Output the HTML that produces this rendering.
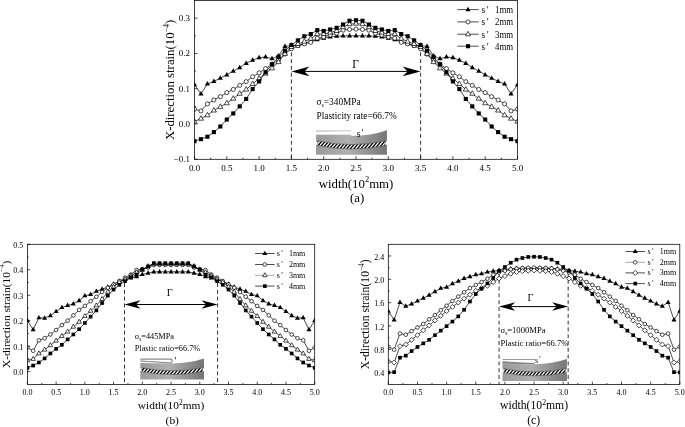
<!DOCTYPE html>
<html lang="en">
<head>
<meta charset="utf-8">
<title>X-direction strain versus width</title>
<style>
html,body{margin:0;padding:0;background:#fff;}
body{width:685px;height:427px;overflow:hidden;}
svg{display:block;filter:grayscale(1);}
svg text{font-family:"Liberation Serif", serif;fill:#000;}
</style>
</head>
<body>
<svg width="685" height="427" viewBox="0 0 685 427">
<rect x="0" y="0" width="685" height="427" fill="#fff"/>
<clipPath id="clipa"><rect x="194.5" y="0.5" width="323" height="158.8"/></clipPath>
<line x1="291.4" y1="52.3" x2="291.4" y2="159.3" stroke="#000" stroke-width="0.8" stroke-dasharray="4 2.8"/>
<line x1="420.6" y1="52.3" x2="420.6" y2="159.3" stroke="#000" stroke-width="0.8" stroke-dasharray="4 2.8"/>
<g clip-path="url(#clipa)">
<polyline points="194.5,84.63 200.96,94.02 207.42,83.92 213.88,81.42 220.34,78.14 226.8,74.78 233.26,71.08 239.72,67.55 246.18,63.31 252.64,60.14 259.1,57.67 265.56,56.96 272.02,58.73 278.48,55.9 284.94,46.38 291.4,45.49 297.86,45.85 304.32,43.55 310.78,41.44 317.24,39.74 323.7,38.26 330.16,36.99 336.62,36.25 343.08,35.93 349.54,35.79 356,35.79 362.46,35.79 368.92,35.93 375.38,36.25 381.84,36.99 388.3,38.26 394.76,39.74 401.22,41.44 407.68,43.55 414.14,45.85 420.6,45.49 427.06,46.38 433.52,55.9 439.98,58.73 446.44,56.96 452.9,57.67 459.36,60.14 465.82,63.31 472.28,67.55 478.74,71.08 485.2,74.78 491.66,78.14 498.12,81.42 504.58,83.92 511.04,94.02 517.5,84.63" fill="none" stroke="#000" stroke-width="0.7"/>
<polygon points="194.5,81.73 191.95,86.23 197.05,86.23" fill="#000"/>
<polygon points="200.96,91.12 198.41,95.62 203.51,95.62" fill="#000"/>
<polygon points="207.42,81.02 204.87,85.52 209.97,85.52" fill="#000"/>
<polygon points="213.88,78.52 211.33,83.02 216.43,83.02" fill="#000"/>
<polygon points="220.34,75.24 217.79,79.74 222.89,79.74" fill="#000"/>
<polygon points="226.8,71.88 224.25,76.38 229.35,76.38" fill="#000"/>
<polygon points="233.26,68.18 230.71,72.68 235.81,72.68" fill="#000"/>
<polygon points="239.72,64.65 237.17,69.15 242.27,69.15" fill="#000"/>
<polygon points="246.18,60.41 243.63,64.91 248.73,64.91" fill="#000"/>
<polygon points="252.64,57.24 250.09,61.74 255.19,61.74" fill="#000"/>
<polygon points="259.1,54.77 256.55,59.27 261.65,59.27" fill="#000"/>
<polygon points="265.56,54.06 263.01,58.56 268.11,58.56" fill="#000"/>
<polygon points="272.02,55.83 269.47,60.33 274.57,60.33" fill="#000"/>
<polygon points="278.48,53 275.93,57.5 281.03,57.5" fill="#000"/>
<polygon points="284.94,43.48 282.39,47.98 287.49,47.98" fill="#000"/>
<polygon points="291.4,42.59 288.85,47.09 293.95,47.09" fill="#000"/>
<polygon points="297.86,42.95 295.31,47.45 300.41,47.45" fill="#000"/>
<polygon points="304.32,40.65 301.77,45.15 306.87,45.15" fill="#000"/>
<polygon points="310.78,38.54 308.23,43.04 313.33,43.04" fill="#000"/>
<polygon points="317.24,36.84 314.69,41.34 319.79,41.34" fill="#000"/>
<polygon points="323.7,35.36 321.15,39.86 326.25,39.86" fill="#000"/>
<polygon points="330.16,34.09 327.61,38.59 332.71,38.59" fill="#000"/>
<polygon points="336.62,33.35 334.07,37.85 339.17,37.85" fill="#000"/>
<polygon points="343.08,33.03 340.53,37.53 345.63,37.53" fill="#000"/>
<polygon points="349.54,32.89 346.99,37.39 352.09,37.39" fill="#000"/>
<polygon points="356,32.89 353.45,37.39 358.55,37.39" fill="#000"/>
<polygon points="362.46,32.89 359.91,37.39 365.01,37.39" fill="#000"/>
<polygon points="368.92,33.03 366.37,37.53 371.47,37.53" fill="#000"/>
<polygon points="375.38,33.35 372.83,37.85 377.93,37.85" fill="#000"/>
<polygon points="381.84,34.09 379.29,38.59 384.39,38.59" fill="#000"/>
<polygon points="388.3,35.36 385.75,39.86 390.85,39.86" fill="#000"/>
<polygon points="394.76,36.84 392.21,41.34 397.31,41.34" fill="#000"/>
<polygon points="401.22,38.54 398.67,43.04 403.77,43.04" fill="#000"/>
<polygon points="407.68,40.65 405.13,45.15 410.23,45.15" fill="#000"/>
<polygon points="414.14,42.95 411.59,47.45 416.69,47.45" fill="#000"/>
<polygon points="420.6,42.59 418.05,47.09 423.15,47.09" fill="#000"/>
<polygon points="427.06,43.48 424.51,47.98 429.61,47.98" fill="#000"/>
<polygon points="433.52,53 430.97,57.5 436.07,57.5" fill="#000"/>
<polygon points="439.98,55.83 437.43,60.33 442.53,60.33" fill="#000"/>
<polygon points="446.44,54.06 443.89,58.56 448.99,58.56" fill="#000"/>
<polygon points="452.9,54.77 450.35,59.27 455.45,59.27" fill="#000"/>
<polygon points="459.36,57.24 456.81,61.74 461.91,61.74" fill="#000"/>
<polygon points="465.82,60.41 463.27,64.91 468.37,64.91" fill="#000"/>
<polygon points="472.28,64.65 469.73,69.15 474.83,69.15" fill="#000"/>
<polygon points="478.74,68.18 476.19,72.68 481.29,72.68" fill="#000"/>
<polygon points="485.2,71.88 482.65,76.38 487.75,76.38" fill="#000"/>
<polygon points="491.66,75.24 489.11,79.74 494.21,79.74" fill="#000"/>
<polygon points="498.12,78.52 495.57,83.02 500.67,83.02" fill="#000"/>
<polygon points="504.58,81.02 502.03,85.52 507.13,85.52" fill="#000"/>
<polygon points="511.04,91.12 508.49,95.62 513.59,95.62" fill="#000"/>
<polygon points="517.5,81.73 514.95,86.23 520.05,86.23" fill="#000"/>
<polyline points="194.5,109.19 200.96,110.95 207.42,103.9 213.88,100.01 220.34,96.66 226.8,92.6 233.26,89.43 239.72,85.37 246.18,81.66 252.64,76.72 259.1,72.84 265.56,68.61 272.02,64.2 278.48,60.14 284.94,54.14 291.4,48.85 297.86,45.67 304.32,43.91 310.78,42.32 317.24,38.26 323.7,36.99 330.16,35.08 336.62,33.32 343.08,30.14 349.54,29.44 356,29.08 362.46,29.44 368.92,30.14 375.38,33.32 381.84,35.08 388.3,36.99 394.76,38.26 401.22,42.32 407.68,43.91 414.14,45.67 420.6,48.85 427.06,54.14 433.52,60.14 439.98,64.2 446.44,68.61 452.9,72.84 459.36,76.72 465.82,81.66 472.28,85.37 478.74,89.43 485.2,92.6 491.66,96.66 498.12,100.01 504.58,103.9 511.04,110.95 517.5,109.19" fill="none" stroke="#000" stroke-width="0.7"/>
<circle cx="194.5" cy="109.19" r="2.05" fill="#fff" stroke="#000" stroke-width="0.7"/>
<circle cx="200.96" cy="110.95" r="2.05" fill="#fff" stroke="#000" stroke-width="0.7"/>
<circle cx="207.42" cy="103.9" r="2.05" fill="#fff" stroke="#000" stroke-width="0.7"/>
<circle cx="213.88" cy="100.01" r="2.05" fill="#fff" stroke="#000" stroke-width="0.7"/>
<circle cx="220.34" cy="96.66" r="2.05" fill="#fff" stroke="#000" stroke-width="0.7"/>
<circle cx="226.8" cy="92.6" r="2.05" fill="#fff" stroke="#000" stroke-width="0.7"/>
<circle cx="233.26" cy="89.43" r="2.05" fill="#fff" stroke="#000" stroke-width="0.7"/>
<circle cx="239.72" cy="85.37" r="2.05" fill="#fff" stroke="#000" stroke-width="0.7"/>
<circle cx="246.18" cy="81.66" r="2.05" fill="#fff" stroke="#000" stroke-width="0.7"/>
<circle cx="252.64" cy="76.72" r="2.05" fill="#fff" stroke="#000" stroke-width="0.7"/>
<circle cx="259.1" cy="72.84" r="2.05" fill="#fff" stroke="#000" stroke-width="0.7"/>
<circle cx="265.56" cy="68.61" r="2.05" fill="#fff" stroke="#000" stroke-width="0.7"/>
<circle cx="272.02" cy="64.2" r="2.05" fill="#fff" stroke="#000" stroke-width="0.7"/>
<circle cx="278.48" cy="60.14" r="2.05" fill="#fff" stroke="#000" stroke-width="0.7"/>
<circle cx="284.94" cy="54.14" r="2.05" fill="#fff" stroke="#000" stroke-width="0.7"/>
<circle cx="291.4" cy="48.85" r="2.05" fill="#fff" stroke="#000" stroke-width="0.7"/>
<circle cx="297.86" cy="45.67" r="2.05" fill="#fff" stroke="#000" stroke-width="0.7"/>
<circle cx="304.32" cy="43.91" r="2.05" fill="#fff" stroke="#000" stroke-width="0.7"/>
<circle cx="310.78" cy="42.32" r="2.05" fill="#fff" stroke="#000" stroke-width="0.7"/>
<circle cx="317.24" cy="38.26" r="2.05" fill="#fff" stroke="#000" stroke-width="0.7"/>
<circle cx="323.7" cy="36.99" r="2.05" fill="#fff" stroke="#000" stroke-width="0.7"/>
<circle cx="330.16" cy="35.08" r="2.05" fill="#fff" stroke="#000" stroke-width="0.7"/>
<circle cx="336.62" cy="33.32" r="2.05" fill="#fff" stroke="#000" stroke-width="0.7"/>
<circle cx="343.08" cy="30.14" r="2.05" fill="#fff" stroke="#000" stroke-width="0.7"/>
<circle cx="349.54" cy="29.44" r="2.05" fill="#fff" stroke="#000" stroke-width="0.7"/>
<circle cx="356" cy="29.08" r="2.05" fill="#fff" stroke="#000" stroke-width="0.7"/>
<circle cx="362.46" cy="29.44" r="2.05" fill="#fff" stroke="#000" stroke-width="0.7"/>
<circle cx="368.92" cy="30.14" r="2.05" fill="#fff" stroke="#000" stroke-width="0.7"/>
<circle cx="375.38" cy="33.32" r="2.05" fill="#fff" stroke="#000" stroke-width="0.7"/>
<circle cx="381.84" cy="35.08" r="2.05" fill="#fff" stroke="#000" stroke-width="0.7"/>
<circle cx="388.3" cy="36.99" r="2.05" fill="#fff" stroke="#000" stroke-width="0.7"/>
<circle cx="394.76" cy="38.26" r="2.05" fill="#fff" stroke="#000" stroke-width="0.7"/>
<circle cx="401.22" cy="42.32" r="2.05" fill="#fff" stroke="#000" stroke-width="0.7"/>
<circle cx="407.68" cy="43.91" r="2.05" fill="#fff" stroke="#000" stroke-width="0.7"/>
<circle cx="414.14" cy="45.67" r="2.05" fill="#fff" stroke="#000" stroke-width="0.7"/>
<circle cx="420.6" cy="48.85" r="2.05" fill="#fff" stroke="#000" stroke-width="0.7"/>
<circle cx="427.06" cy="54.14" r="2.05" fill="#fff" stroke="#000" stroke-width="0.7"/>
<circle cx="433.52" cy="60.14" r="2.05" fill="#fff" stroke="#000" stroke-width="0.7"/>
<circle cx="439.98" cy="64.2" r="2.05" fill="#fff" stroke="#000" stroke-width="0.7"/>
<circle cx="446.44" cy="68.61" r="2.05" fill="#fff" stroke="#000" stroke-width="0.7"/>
<circle cx="452.9" cy="72.84" r="2.05" fill="#fff" stroke="#000" stroke-width="0.7"/>
<circle cx="459.36" cy="76.72" r="2.05" fill="#fff" stroke="#000" stroke-width="0.7"/>
<circle cx="465.82" cy="81.66" r="2.05" fill="#fff" stroke="#000" stroke-width="0.7"/>
<circle cx="472.28" cy="85.37" r="2.05" fill="#fff" stroke="#000" stroke-width="0.7"/>
<circle cx="478.74" cy="89.43" r="2.05" fill="#fff" stroke="#000" stroke-width="0.7"/>
<circle cx="485.2" cy="92.6" r="2.05" fill="#fff" stroke="#000" stroke-width="0.7"/>
<circle cx="491.66" cy="96.66" r="2.05" fill="#fff" stroke="#000" stroke-width="0.7"/>
<circle cx="498.12" cy="100.01" r="2.05" fill="#fff" stroke="#000" stroke-width="0.7"/>
<circle cx="504.58" cy="103.9" r="2.05" fill="#fff" stroke="#000" stroke-width="0.7"/>
<circle cx="511.04" cy="110.95" r="2.05" fill="#fff" stroke="#000" stroke-width="0.7"/>
<circle cx="517.5" cy="109.19" r="2.05" fill="#fff" stroke="#000" stroke-width="0.7"/>
<polyline points="194.5,121.54 200.96,118.58 207.42,115.19 213.88,110.42 220.34,106.72 226.8,103.19 233.26,98.6 239.72,93.66 246.18,89.53 252.64,83.92 259.1,78.49 265.56,73.55 272.02,68.25 278.48,62.04 284.94,53.79 291.4,46.9 297.86,43.91 304.32,41.54 310.78,38.61 317.24,34.02 323.7,34.02 330.16,32.44 336.62,30.92 343.08,27.14 349.54,24.14 356,23.61 362.46,24.14 368.92,27.14 375.38,30.92 381.84,32.44 388.3,34.02 394.76,34.02 401.22,38.61 407.68,41.54 414.14,43.91 420.6,46.9 427.06,53.79 433.52,62.04 439.98,68.25 446.44,73.55 452.9,78.49 459.36,83.92 465.82,89.53 472.28,93.66 478.74,98.6 485.2,103.19 491.66,106.72 498.12,110.42 504.58,115.19 511.04,118.58 517.5,121.54" fill="none" stroke="#000" stroke-width="0.7"/>
<polygon points="194.5,118.64 191.95,123.14 197.05,123.14" fill="#fff" stroke="#000" stroke-width="0.7"/>
<polygon points="200.96,115.68 198.41,120.18 203.51,120.18" fill="#fff" stroke="#000" stroke-width="0.7"/>
<polygon points="207.42,112.29 204.87,116.79 209.97,116.79" fill="#fff" stroke="#000" stroke-width="0.7"/>
<polygon points="213.88,107.52 211.33,112.02 216.43,112.02" fill="#fff" stroke="#000" stroke-width="0.7"/>
<polygon points="220.34,103.82 217.79,108.32 222.89,108.32" fill="#fff" stroke="#000" stroke-width="0.7"/>
<polygon points="226.8,100.29 224.25,104.79 229.35,104.79" fill="#fff" stroke="#000" stroke-width="0.7"/>
<polygon points="233.26,95.7 230.71,100.2 235.81,100.2" fill="#fff" stroke="#000" stroke-width="0.7"/>
<polygon points="239.72,90.76 237.17,95.26 242.27,95.26" fill="#fff" stroke="#000" stroke-width="0.7"/>
<polygon points="246.18,86.63 243.63,91.13 248.73,91.13" fill="#fff" stroke="#000" stroke-width="0.7"/>
<polygon points="252.64,81.02 250.09,85.52 255.19,85.52" fill="#fff" stroke="#000" stroke-width="0.7"/>
<polygon points="259.1,75.59 256.55,80.09 261.65,80.09" fill="#fff" stroke="#000" stroke-width="0.7"/>
<polygon points="265.56,70.65 263.01,75.15 268.11,75.15" fill="#fff" stroke="#000" stroke-width="0.7"/>
<polygon points="272.02,65.35 269.47,69.85 274.57,69.85" fill="#fff" stroke="#000" stroke-width="0.7"/>
<polygon points="278.48,59.14 275.93,63.64 281.03,63.64" fill="#fff" stroke="#000" stroke-width="0.7"/>
<polygon points="284.94,50.89 282.39,55.39 287.49,55.39" fill="#fff" stroke="#000" stroke-width="0.7"/>
<polygon points="291.4,44 288.85,48.5 293.95,48.5" fill="#fff" stroke="#000" stroke-width="0.7"/>
<polygon points="297.86,41.01 295.31,45.51 300.41,45.51" fill="#fff" stroke="#000" stroke-width="0.7"/>
<polygon points="304.32,38.64 301.77,43.14 306.87,43.14" fill="#fff" stroke="#000" stroke-width="0.7"/>
<polygon points="310.78,35.71 308.23,40.21 313.33,40.21" fill="#fff" stroke="#000" stroke-width="0.7"/>
<polygon points="317.24,31.12 314.69,35.62 319.79,35.62" fill="#fff" stroke="#000" stroke-width="0.7"/>
<polygon points="323.7,31.12 321.15,35.62 326.25,35.62" fill="#fff" stroke="#000" stroke-width="0.7"/>
<polygon points="330.16,29.54 327.61,34.04 332.71,34.04" fill="#fff" stroke="#000" stroke-width="0.7"/>
<polygon points="336.62,28.02 334.07,32.52 339.17,32.52" fill="#fff" stroke="#000" stroke-width="0.7"/>
<polygon points="343.08,24.24 340.53,28.74 345.63,28.74" fill="#fff" stroke="#000" stroke-width="0.7"/>
<polygon points="349.54,21.24 346.99,25.74 352.09,25.74" fill="#fff" stroke="#000" stroke-width="0.7"/>
<polygon points="356,20.71 353.45,25.21 358.55,25.21" fill="#fff" stroke="#000" stroke-width="0.7"/>
<polygon points="362.46,21.24 359.91,25.74 365.01,25.74" fill="#fff" stroke="#000" stroke-width="0.7"/>
<polygon points="368.92,24.24 366.37,28.74 371.47,28.74" fill="#fff" stroke="#000" stroke-width="0.7"/>
<polygon points="375.38,28.02 372.83,32.52 377.93,32.52" fill="#fff" stroke="#000" stroke-width="0.7"/>
<polygon points="381.84,29.54 379.29,34.04 384.39,34.04" fill="#fff" stroke="#000" stroke-width="0.7"/>
<polygon points="388.3,31.12 385.75,35.62 390.85,35.62" fill="#fff" stroke="#000" stroke-width="0.7"/>
<polygon points="394.76,31.12 392.21,35.62 397.31,35.62" fill="#fff" stroke="#000" stroke-width="0.7"/>
<polygon points="401.22,35.71 398.67,40.21 403.77,40.21" fill="#fff" stroke="#000" stroke-width="0.7"/>
<polygon points="407.68,38.64 405.13,43.14 410.23,43.14" fill="#fff" stroke="#000" stroke-width="0.7"/>
<polygon points="414.14,41.01 411.59,45.51 416.69,45.51" fill="#fff" stroke="#000" stroke-width="0.7"/>
<polygon points="420.6,44 418.05,48.5 423.15,48.5" fill="#fff" stroke="#000" stroke-width="0.7"/>
<polygon points="427.06,50.89 424.51,55.39 429.61,55.39" fill="#fff" stroke="#000" stroke-width="0.7"/>
<polygon points="433.52,59.14 430.97,63.64 436.07,63.64" fill="#fff" stroke="#000" stroke-width="0.7"/>
<polygon points="439.98,65.35 437.43,69.85 442.53,69.85" fill="#fff" stroke="#000" stroke-width="0.7"/>
<polygon points="446.44,70.65 443.89,75.15 448.99,75.15" fill="#fff" stroke="#000" stroke-width="0.7"/>
<polygon points="452.9,75.59 450.35,80.09 455.45,80.09" fill="#fff" stroke="#000" stroke-width="0.7"/>
<polygon points="459.36,81.02 456.81,85.52 461.91,85.52" fill="#fff" stroke="#000" stroke-width="0.7"/>
<polygon points="465.82,86.63 463.27,91.13 468.37,91.13" fill="#fff" stroke="#000" stroke-width="0.7"/>
<polygon points="472.28,90.76 469.73,95.26 474.83,95.26" fill="#fff" stroke="#000" stroke-width="0.7"/>
<polygon points="478.74,95.7 476.19,100.2 481.29,100.2" fill="#fff" stroke="#000" stroke-width="0.7"/>
<polygon points="485.2,100.29 482.65,104.79 487.75,104.79" fill="#fff" stroke="#000" stroke-width="0.7"/>
<polygon points="491.66,103.82 489.11,108.32 494.21,108.32" fill="#fff" stroke="#000" stroke-width="0.7"/>
<polygon points="498.12,107.52 495.57,112.02 500.67,112.02" fill="#fff" stroke="#000" stroke-width="0.7"/>
<polygon points="504.58,112.29 502.03,116.79 507.13,116.79" fill="#fff" stroke="#000" stroke-width="0.7"/>
<polygon points="511.04,115.68 508.49,120.18 513.59,120.18" fill="#fff" stroke="#000" stroke-width="0.7"/>
<polygon points="517.5,118.64 514.95,123.14 520.05,123.14" fill="#fff" stroke="#000" stroke-width="0.7"/>
<polyline points="194.5,141.2 200.96,139.19 207.42,136.72 213.88,132.13 220.34,126.48 226.8,119.53 233.26,113.42 239.72,106.37 246.18,98.96 252.64,89.08 259.1,81.42 265.56,72.31 272.02,64.2 278.48,56.96 284.94,50.61 291.4,44.96 297.86,40.38 304.32,36.25 310.78,34.02 317.24,30.14 323.7,30.92 330.16,29.44 336.62,27.85 343.08,24.5 349.54,20.72 356,20.26 362.46,20.72 368.92,24.5 375.38,27.85 381.84,29.44 388.3,30.92 394.76,30.14 401.22,34.02 407.68,36.25 414.14,40.38 420.6,44.96 427.06,50.61 433.52,56.96 439.98,64.2 446.44,72.31 452.9,81.42 459.36,89.08 465.82,98.96 472.28,106.37 478.74,113.42 485.2,119.53 491.66,126.48 498.12,132.13 504.58,136.72 511.04,139.19 517.5,141.2" fill="none" stroke="#000" stroke-width="0.7"/>
<rect x="192.45" y="139.15" width="4.1" height="4.1" fill="#000"/>
<rect x="198.91" y="137.14" width="4.1" height="4.1" fill="#000"/>
<rect x="205.37" y="134.67" width="4.1" height="4.1" fill="#000"/>
<rect x="211.83" y="130.08" width="4.1" height="4.1" fill="#000"/>
<rect x="218.29" y="124.43" width="4.1" height="4.1" fill="#000"/>
<rect x="224.75" y="117.48" width="4.1" height="4.1" fill="#000"/>
<rect x="231.21" y="111.37" width="4.1" height="4.1" fill="#000"/>
<rect x="237.67" y="104.32" width="4.1" height="4.1" fill="#000"/>
<rect x="244.13" y="96.91" width="4.1" height="4.1" fill="#000"/>
<rect x="250.59" y="87.03" width="4.1" height="4.1" fill="#000"/>
<rect x="257.05" y="79.37" width="4.1" height="4.1" fill="#000"/>
<rect x="263.51" y="70.26" width="4.1" height="4.1" fill="#000"/>
<rect x="269.97" y="62.15" width="4.1" height="4.1" fill="#000"/>
<rect x="276.43" y="54.91" width="4.1" height="4.1" fill="#000"/>
<rect x="282.89" y="48.56" width="4.1" height="4.1" fill="#000"/>
<rect x="289.35" y="42.91" width="4.1" height="4.1" fill="#000"/>
<rect x="295.81" y="38.33" width="4.1" height="4.1" fill="#000"/>
<rect x="302.27" y="34.2" width="4.1" height="4.1" fill="#000"/>
<rect x="308.73" y="31.97" width="4.1" height="4.1" fill="#000"/>
<rect x="315.19" y="28.09" width="4.1" height="4.1" fill="#000"/>
<rect x="321.65" y="28.87" width="4.1" height="4.1" fill="#000"/>
<rect x="328.11" y="27.39" width="4.1" height="4.1" fill="#000"/>
<rect x="334.57" y="25.8" width="4.1" height="4.1" fill="#000"/>
<rect x="341.03" y="22.45" width="4.1" height="4.1" fill="#000"/>
<rect x="347.49" y="18.67" width="4.1" height="4.1" fill="#000"/>
<rect x="353.95" y="18.21" width="4.1" height="4.1" fill="#000"/>
<rect x="360.41" y="18.67" width="4.1" height="4.1" fill="#000"/>
<rect x="366.87" y="22.45" width="4.1" height="4.1" fill="#000"/>
<rect x="373.33" y="25.8" width="4.1" height="4.1" fill="#000"/>
<rect x="379.79" y="27.39" width="4.1" height="4.1" fill="#000"/>
<rect x="386.25" y="28.87" width="4.1" height="4.1" fill="#000"/>
<rect x="392.71" y="28.09" width="4.1" height="4.1" fill="#000"/>
<rect x="399.17" y="31.97" width="4.1" height="4.1" fill="#000"/>
<rect x="405.63" y="34.2" width="4.1" height="4.1" fill="#000"/>
<rect x="412.09" y="38.33" width="4.1" height="4.1" fill="#000"/>
<rect x="418.55" y="42.91" width="4.1" height="4.1" fill="#000"/>
<rect x="425.01" y="48.56" width="4.1" height="4.1" fill="#000"/>
<rect x="431.47" y="54.91" width="4.1" height="4.1" fill="#000"/>
<rect x="437.93" y="62.15" width="4.1" height="4.1" fill="#000"/>
<rect x="444.39" y="70.26" width="4.1" height="4.1" fill="#000"/>
<rect x="450.85" y="79.37" width="4.1" height="4.1" fill="#000"/>
<rect x="457.31" y="87.03" width="4.1" height="4.1" fill="#000"/>
<rect x="463.77" y="96.91" width="4.1" height="4.1" fill="#000"/>
<rect x="470.23" y="104.32" width="4.1" height="4.1" fill="#000"/>
<rect x="476.69" y="111.37" width="4.1" height="4.1" fill="#000"/>
<rect x="483.15" y="117.48" width="4.1" height="4.1" fill="#000"/>
<rect x="489.61" y="124.43" width="4.1" height="4.1" fill="#000"/>
<rect x="496.07" y="130.08" width="4.1" height="4.1" fill="#000"/>
<rect x="502.53" y="134.67" width="4.1" height="4.1" fill="#000"/>
<rect x="508.99" y="137.14" width="4.1" height="4.1" fill="#000"/>
<rect x="515.45" y="139.15" width="4.1" height="4.1" fill="#000"/>
</g>
<rect x="194.5" y="0.5" width="323" height="158.8" fill="none" stroke="#000" stroke-width="0.75"/>
<line x1="194.5" y1="159.3" x2="194.5" y2="156.2" stroke="#000" stroke-width="0.7"/>
<text x="194.5" y="171.3" font-size="9" text-anchor="middle">0.0</text>
<line x1="210.65" y1="159.3" x2="210.65" y2="157.7" stroke="#000" stroke-width="0.7"/>
<line x1="226.8" y1="159.3" x2="226.8" y2="156.2" stroke="#000" stroke-width="0.7"/>
<text x="226.8" y="171.3" font-size="9" text-anchor="middle">0.5</text>
<line x1="242.95" y1="159.3" x2="242.95" y2="157.7" stroke="#000" stroke-width="0.7"/>
<line x1="259.1" y1="159.3" x2="259.1" y2="156.2" stroke="#000" stroke-width="0.7"/>
<text x="259.1" y="171.3" font-size="9" text-anchor="middle">1.0</text>
<line x1="275.25" y1="159.3" x2="275.25" y2="157.7" stroke="#000" stroke-width="0.7"/>
<line x1="291.4" y1="159.3" x2="291.4" y2="156.2" stroke="#000" stroke-width="0.7"/>
<text x="291.4" y="171.3" font-size="9" text-anchor="middle">1.5</text>
<line x1="307.55" y1="159.3" x2="307.55" y2="157.7" stroke="#000" stroke-width="0.7"/>
<line x1="323.7" y1="159.3" x2="323.7" y2="156.2" stroke="#000" stroke-width="0.7"/>
<text x="323.7" y="171.3" font-size="9" text-anchor="middle">2.0</text>
<line x1="339.85" y1="159.3" x2="339.85" y2="157.7" stroke="#000" stroke-width="0.7"/>
<line x1="356" y1="159.3" x2="356" y2="156.2" stroke="#000" stroke-width="0.7"/>
<text x="356" y="171.3" font-size="9" text-anchor="middle">2.5</text>
<line x1="372.15" y1="159.3" x2="372.15" y2="157.7" stroke="#000" stroke-width="0.7"/>
<line x1="388.3" y1="159.3" x2="388.3" y2="156.2" stroke="#000" stroke-width="0.7"/>
<text x="388.3" y="171.3" font-size="9" text-anchor="middle">3.0</text>
<line x1="404.45" y1="159.3" x2="404.45" y2="157.7" stroke="#000" stroke-width="0.7"/>
<line x1="420.6" y1="159.3" x2="420.6" y2="156.2" stroke="#000" stroke-width="0.7"/>
<text x="420.6" y="171.3" font-size="9" text-anchor="middle">3.5</text>
<line x1="436.75" y1="159.3" x2="436.75" y2="157.7" stroke="#000" stroke-width="0.7"/>
<line x1="452.9" y1="159.3" x2="452.9" y2="156.2" stroke="#000" stroke-width="0.7"/>
<text x="452.9" y="171.3" font-size="9" text-anchor="middle">4.0</text>
<line x1="469.05" y1="159.3" x2="469.05" y2="157.7" stroke="#000" stroke-width="0.7"/>
<line x1="485.2" y1="159.3" x2="485.2" y2="156.2" stroke="#000" stroke-width="0.7"/>
<text x="485.2" y="171.3" font-size="9" text-anchor="middle">4.5</text>
<line x1="501.35" y1="159.3" x2="501.35" y2="157.7" stroke="#000" stroke-width="0.7"/>
<line x1="517.5" y1="159.3" x2="517.5" y2="156.2" stroke="#000" stroke-width="0.7"/>
<text x="517.5" y="171.3" font-size="9" text-anchor="middle">5.0</text>
<line x1="194.5" y1="159.3" x2="197.7" y2="159.3" stroke="#000" stroke-width="0.7"/>
<text x="189.9" y="162.27" font-size="9" text-anchor="end">−0.1</text>
<line x1="194.5" y1="124.01" x2="197.7" y2="124.01" stroke="#000" stroke-width="0.7"/>
<text x="189.9" y="126.98" font-size="9" text-anchor="end">0.0</text>
<line x1="194.5" y1="88.72" x2="197.7" y2="88.72" stroke="#000" stroke-width="0.7"/>
<text x="189.9" y="91.69" font-size="9" text-anchor="end">0.1</text>
<line x1="194.5" y1="53.43" x2="197.7" y2="53.43" stroke="#000" stroke-width="0.7"/>
<text x="189.9" y="56.4" font-size="9" text-anchor="end">0.2</text>
<line x1="194.5" y1="18.14" x2="197.7" y2="18.14" stroke="#000" stroke-width="0.7"/>
<text x="189.9" y="21.11" font-size="9" text-anchor="end">0.3</text>
<line x1="194.5" y1="141.66" x2="196" y2="141.66" stroke="#000" stroke-width="0.7"/>
<line x1="194.5" y1="106.37" x2="196" y2="106.37" stroke="#000" stroke-width="0.7"/>
<line x1="194.5" y1="71.08" x2="196" y2="71.08" stroke="#000" stroke-width="0.7"/>
<line x1="194.5" y1="35.79" x2="196" y2="35.79" stroke="#000" stroke-width="0.7"/>
<text x="356" y="187.5" font-size="12.8" text-anchor="middle">width(10<tspan font-size="8.45" dy="-5.12">2</tspan><tspan dy="5.12">mm)</tspan></text>
<text x="357.2" y="202.1" font-size="12.8" text-anchor="middle">(a)</text>
<text transform="translate(174.3,79.9) rotate(-90)" font-size="12.8" text-anchor="middle">X-direction strain(10<tspan font-size="7.94" dy="-5.76">−4</tspan><tspan dy="5.76">)</tspan></text>
<line x1="301.8" y1="71.4" x2="410.2" y2="71.4" stroke="#000" stroke-width="1"/>
<polygon points="291.4,71.4 309.4,66.6 304.4,71.4 309.4,76.2" fill="#000"/>
<polygon points="420.6,71.4 402.6,66.6 407.6,71.4 402.6,76.2" fill="#000"/>
<text x="355.6" y="67.6" font-size="11.5" text-anchor="middle">Γ</text>
<text x="316.6" y="105.3" font-size="9.3">σ<tspan font-size="5.77" dy="2.05">s</tspan><tspan dy="-2.05">=340MPa</tspan></text>
<text x="316.6" y="119" font-size="9.3">Plasticity rate=66.7%</text>
<line x1="457.4" y1="9.6" x2="478.7" y2="9.6" stroke="#000" stroke-width="0.7"/>
<polygon points="468.05,6.7 465.5,11.2 470.6,11.2" fill="#000"/>
<text transform="translate(481.6,13) scale(0.9,1)" font-size="10.2">s<tspan dx="1.8">′</tspan></text>
<text transform="translate(495,13) scale(0.88,1)" font-size="10">1mm</text>
<line x1="457.4" y1="21.9" x2="478.7" y2="21.9" stroke="#000" stroke-width="0.7"/>
<circle cx="468.05" cy="21.9" r="2.05" fill="#fff" stroke="#000" stroke-width="0.7"/>
<text transform="translate(481.6,25.3) scale(0.9,1)" font-size="10.2">s<tspan dx="1.8">′</tspan></text>
<text transform="translate(495,25.3) scale(0.88,1)" font-size="10">2mm</text>
<line x1="457.4" y1="34.2" x2="478.7" y2="34.2" stroke="#000" stroke-width="0.7"/>
<polygon points="468.05,31.3 465.5,35.8 470.6,35.8" fill="#fff" stroke="#000" stroke-width="0.7"/>
<text transform="translate(481.6,37.6) scale(0.9,1)" font-size="10.2">s<tspan dx="1.8">′</tspan></text>
<text transform="translate(495,37.6) scale(0.88,1)" font-size="10">3mm</text>
<line x1="457.4" y1="46.2" x2="478.7" y2="46.2" stroke="#000" stroke-width="0.7"/>
<rect x="466" y="44.15" width="4.1" height="4.1" fill="#000"/>
<text transform="translate(481.6,49.6) scale(0.9,1)" font-size="10.2">s<tspan dx="1.8">′</tspan></text>
<text transform="translate(495,49.6) scale(0.88,1)" font-size="10">4mm</text>
<clipPath id="clipb"><rect x="27.4" y="244.3" width="287.3" height="140.1"/></clipPath>
<line x1="124.51" y1="283" x2="124.51" y2="384.4" stroke="#000" stroke-width="0.8" stroke-dasharray="4 2.8"/>
<line x1="217.59" y1="283" x2="217.59" y2="384.4" stroke="#000" stroke-width="0.8" stroke-dasharray="4 2.8"/>
<g clip-path="url(#clipb)">
<polyline points="27.4,320.51 33.15,329.71 38.89,317.74 44.64,318.07 50.38,315.62 56.13,311.55 61.88,307.47 67.62,305.43 73.37,303.91 79.11,300.59 84.86,295.75 90.61,294.56 96.35,291.3 102.1,289.13 107.84,287.09 113.59,284.04 119.34,281.74 125.08,279.45 130.83,277.92 136.57,276.65 142.32,274.36 148.07,273.08 153.81,271.81 159.56,271.81 165.3,271.81 171.05,271.81 176.8,271.81 182.54,271.81 188.29,271.81 194.03,273.08 199.78,274.36 205.53,276.65 211.27,277.92 217.02,279.45 222.76,281.74 228.51,284.04 234.26,287.09 240,289.13 245.75,291.3 251.49,294.56 257.24,295.75 262.99,300.59 268.73,303.91 274.48,305.43 280.22,307.47 285.97,311.55 291.72,315.62 297.46,318.07 303.21,317.74 308.95,329.71 314.7,320.51" fill="none" stroke="#000" stroke-width="0.7"/>
<polygon points="27.4,317.68 24.9,322.08 29.9,322.08" fill="#000"/>
<polygon points="33.15,326.87 30.65,331.28 35.64,331.28" fill="#000"/>
<polygon points="38.89,314.9 36.4,319.3 41.39,319.3" fill="#000"/>
<polygon points="44.64,315.23 42.14,319.64 47.13,319.64" fill="#000"/>
<polygon points="50.38,312.78 47.89,317.19 52.88,317.19" fill="#000"/>
<polygon points="56.13,308.71 53.63,313.11 58.63,313.11" fill="#000"/>
<polygon points="61.88,304.63 59.38,309.04 64.37,309.04" fill="#000"/>
<polygon points="67.62,302.6 65.13,307 70.12,307" fill="#000"/>
<polygon points="73.37,301.07 70.87,305.47 75.86,305.47" fill="#000"/>
<polygon points="79.11,297.76 76.62,302.16 81.61,302.16" fill="#000"/>
<polygon points="84.86,292.92 82.36,297.32 87.36,297.32" fill="#000"/>
<polygon points="90.61,291.72 88.11,296.12 93.1,296.12" fill="#000"/>
<polygon points="96.35,288.46 93.86,292.86 98.85,292.86" fill="#000"/>
<polygon points="102.1,286.29 99.6,290.7 104.59,290.7" fill="#000"/>
<polygon points="107.84,284.26 105.35,288.66 110.34,288.66" fill="#000"/>
<polygon points="113.59,281.2 111.09,285.6 116.09,285.6" fill="#000"/>
<polygon points="119.34,278.91 116.84,283.31 121.83,283.31" fill="#000"/>
<polygon points="125.08,276.61 122.59,281.02 127.58,281.02" fill="#000"/>
<polygon points="130.83,275.08 128.33,279.49 133.32,279.49" fill="#000"/>
<polygon points="136.57,273.81 134.08,278.22 139.07,278.22" fill="#000"/>
<polygon points="142.32,271.52 139.82,275.92 144.82,275.92" fill="#000"/>
<polygon points="148.07,270.25 145.57,274.65 150.56,274.65" fill="#000"/>
<polygon points="153.81,268.97 151.32,273.38 156.31,273.38" fill="#000"/>
<polygon points="159.56,268.97 157.06,273.38 162.05,273.38" fill="#000"/>
<polygon points="165.3,268.97 162.81,273.38 167.8,273.38" fill="#000"/>
<polygon points="171.05,268.97 168.55,273.38 173.55,273.38" fill="#000"/>
<polygon points="176.8,268.97 174.3,273.38 179.29,273.38" fill="#000"/>
<polygon points="182.54,268.97 180.05,273.38 185.04,273.38" fill="#000"/>
<polygon points="188.29,268.97 185.79,273.38 190.78,273.38" fill="#000"/>
<polygon points="194.03,270.25 191.54,274.65 196.53,274.65" fill="#000"/>
<polygon points="199.78,271.52 197.28,275.92 202.28,275.92" fill="#000"/>
<polygon points="205.53,273.81 203.03,278.22 208.02,278.22" fill="#000"/>
<polygon points="211.27,275.08 208.78,279.49 213.77,279.49" fill="#000"/>
<polygon points="217.02,276.61 214.52,281.02 219.51,281.02" fill="#000"/>
<polygon points="222.76,278.91 220.27,283.31 225.26,283.31" fill="#000"/>
<polygon points="228.51,281.2 226.01,285.6 231.01,285.6" fill="#000"/>
<polygon points="234.26,284.26 231.76,288.66 236.75,288.66" fill="#000"/>
<polygon points="240,286.29 237.51,290.7 242.5,290.7" fill="#000"/>
<polygon points="245.75,288.46 243.25,292.86 248.24,292.86" fill="#000"/>
<polygon points="251.49,291.72 249,296.12 253.99,296.12" fill="#000"/>
<polygon points="257.24,292.92 254.74,297.32 259.74,297.32" fill="#000"/>
<polygon points="262.99,297.76 260.49,302.16 265.48,302.16" fill="#000"/>
<polygon points="268.73,301.07 266.24,305.47 271.23,305.47" fill="#000"/>
<polygon points="274.48,302.6 271.98,307 276.97,307" fill="#000"/>
<polygon points="280.22,304.63 277.73,309.04 282.72,309.04" fill="#000"/>
<polygon points="285.97,308.71 283.47,313.11 288.47,313.11" fill="#000"/>
<polygon points="291.72,312.78 289.22,317.19 294.21,317.19" fill="#000"/>
<polygon points="297.46,315.23 294.97,319.64 299.96,319.64" fill="#000"/>
<polygon points="303.21,314.9 300.71,319.3 305.7,319.3" fill="#000"/>
<polygon points="308.95,326.87 306.46,331.28 311.45,331.28" fill="#000"/>
<polygon points="314.7,317.68 312.2,322.08 317.2,322.08" fill="#000"/>
<polyline points="27.4,347.57 33.15,350.78 38.89,340.33 44.64,338.22 50.38,334.47 56.13,330.02 61.88,325.12 67.62,320.72 73.37,315.37 79.11,309.89 84.86,305.94 90.61,301.23 96.35,296.77 102.1,292.06 107.84,287.73 113.59,284.55 119.34,280.98 125.08,277.67 130.83,274.49 136.57,270.03 142.32,269.01 148.07,267.56 153.81,264.93 159.56,264.93 165.3,264.93 171.05,264.93 176.8,264.93 182.54,264.93 188.29,264.93 194.03,267.56 199.78,269.01 205.53,270.03 211.27,274.49 217.02,277.67 222.76,280.98 228.51,284.55 234.26,287.73 240,292.06 245.75,296.77 251.49,301.23 257.24,305.94 262.99,309.89 268.73,315.37 274.48,320.72 280.22,325.12 285.97,330.02 291.72,334.47 297.46,338.22 303.21,340.33 308.95,350.78 314.7,347.57" fill="none" stroke="#000" stroke-width="0.7"/>
<circle cx="27.4" cy="347.57" r="1.82" fill="#fff" stroke="#000" stroke-width="0.7"/>
<circle cx="33.15" cy="350.78" r="1.82" fill="#fff" stroke="#000" stroke-width="0.7"/>
<circle cx="38.89" cy="340.33" r="1.82" fill="#fff" stroke="#000" stroke-width="0.7"/>
<circle cx="44.64" cy="338.22" r="1.82" fill="#fff" stroke="#000" stroke-width="0.7"/>
<circle cx="50.38" cy="334.47" r="1.82" fill="#fff" stroke="#000" stroke-width="0.7"/>
<circle cx="56.13" cy="330.02" r="1.82" fill="#fff" stroke="#000" stroke-width="0.7"/>
<circle cx="61.88" cy="325.12" r="1.82" fill="#fff" stroke="#000" stroke-width="0.7"/>
<circle cx="67.62" cy="320.72" r="1.82" fill="#fff" stroke="#000" stroke-width="0.7"/>
<circle cx="73.37" cy="315.37" r="1.82" fill="#fff" stroke="#000" stroke-width="0.7"/>
<circle cx="79.11" cy="309.89" r="1.82" fill="#fff" stroke="#000" stroke-width="0.7"/>
<circle cx="84.86" cy="305.94" r="1.82" fill="#fff" stroke="#000" stroke-width="0.7"/>
<circle cx="90.61" cy="301.23" r="1.82" fill="#fff" stroke="#000" stroke-width="0.7"/>
<circle cx="96.35" cy="296.77" r="1.82" fill="#fff" stroke="#000" stroke-width="0.7"/>
<circle cx="102.1" cy="292.06" r="1.82" fill="#fff" stroke="#000" stroke-width="0.7"/>
<circle cx="107.84" cy="287.73" r="1.82" fill="#fff" stroke="#000" stroke-width="0.7"/>
<circle cx="113.59" cy="284.55" r="1.82" fill="#fff" stroke="#000" stroke-width="0.7"/>
<circle cx="119.34" cy="280.98" r="1.82" fill="#fff" stroke="#000" stroke-width="0.7"/>
<circle cx="125.08" cy="277.67" r="1.82" fill="#fff" stroke="#000" stroke-width="0.7"/>
<circle cx="130.83" cy="274.49" r="1.82" fill="#fff" stroke="#000" stroke-width="0.7"/>
<circle cx="136.57" cy="270.03" r="1.82" fill="#fff" stroke="#000" stroke-width="0.7"/>
<circle cx="142.32" cy="269.01" r="1.82" fill="#fff" stroke="#000" stroke-width="0.7"/>
<circle cx="148.07" cy="267.56" r="1.82" fill="#fff" stroke="#000" stroke-width="0.7"/>
<circle cx="153.81" cy="264.93" r="1.82" fill="#fff" stroke="#000" stroke-width="0.7"/>
<circle cx="159.56" cy="264.93" r="1.82" fill="#fff" stroke="#000" stroke-width="0.7"/>
<circle cx="165.3" cy="264.93" r="1.82" fill="#fff" stroke="#000" stroke-width="0.7"/>
<circle cx="171.05" cy="264.93" r="1.82" fill="#fff" stroke="#000" stroke-width="0.7"/>
<circle cx="176.8" cy="264.93" r="1.82" fill="#fff" stroke="#000" stroke-width="0.7"/>
<circle cx="182.54" cy="264.93" r="1.82" fill="#fff" stroke="#000" stroke-width="0.7"/>
<circle cx="188.29" cy="264.93" r="1.82" fill="#fff" stroke="#000" stroke-width="0.7"/>
<circle cx="194.03" cy="267.56" r="1.82" fill="#fff" stroke="#000" stroke-width="0.7"/>
<circle cx="199.78" cy="269.01" r="1.82" fill="#fff" stroke="#000" stroke-width="0.7"/>
<circle cx="205.53" cy="270.03" r="1.82" fill="#fff" stroke="#000" stroke-width="0.7"/>
<circle cx="211.27" cy="274.49" r="1.82" fill="#fff" stroke="#000" stroke-width="0.7"/>
<circle cx="217.02" cy="277.67" r="1.82" fill="#fff" stroke="#000" stroke-width="0.7"/>
<circle cx="222.76" cy="280.98" r="1.82" fill="#fff" stroke="#000" stroke-width="0.7"/>
<circle cx="228.51" cy="284.55" r="1.82" fill="#fff" stroke="#000" stroke-width="0.7"/>
<circle cx="234.26" cy="287.73" r="1.82" fill="#fff" stroke="#000" stroke-width="0.7"/>
<circle cx="240" cy="292.06" r="1.82" fill="#fff" stroke="#000" stroke-width="0.7"/>
<circle cx="245.75" cy="296.77" r="1.82" fill="#fff" stroke="#000" stroke-width="0.7"/>
<circle cx="251.49" cy="301.23" r="1.82" fill="#fff" stroke="#000" stroke-width="0.7"/>
<circle cx="257.24" cy="305.94" r="1.82" fill="#fff" stroke="#000" stroke-width="0.7"/>
<circle cx="262.99" cy="309.89" r="1.82" fill="#fff" stroke="#000" stroke-width="0.7"/>
<circle cx="268.73" cy="315.37" r="1.82" fill="#fff" stroke="#000" stroke-width="0.7"/>
<circle cx="274.48" cy="320.72" r="1.82" fill="#fff" stroke="#000" stroke-width="0.7"/>
<circle cx="280.22" cy="325.12" r="1.82" fill="#fff" stroke="#000" stroke-width="0.7"/>
<circle cx="285.97" cy="330.02" r="1.82" fill="#fff" stroke="#000" stroke-width="0.7"/>
<circle cx="291.72" cy="334.47" r="1.82" fill="#fff" stroke="#000" stroke-width="0.7"/>
<circle cx="297.46" cy="338.22" r="1.82" fill="#fff" stroke="#000" stroke-width="0.7"/>
<circle cx="303.21" cy="340.33" r="1.82" fill="#fff" stroke="#000" stroke-width="0.7"/>
<circle cx="308.95" cy="350.78" r="1.82" fill="#fff" stroke="#000" stroke-width="0.7"/>
<circle cx="314.7" cy="347.57" r="1.82" fill="#fff" stroke="#000" stroke-width="0.7"/>
<polyline points="27.4,360.33 33.15,359 38.89,353.45 44.64,349.68 50.38,345.27 56.13,340.69 61.88,336 67.62,331.67 73.37,326.76 79.11,321.86 84.86,316.13 90.61,310.86 96.35,305.43 102.1,299.07 107.84,291.81 113.59,286.84 119.34,282.25 125.08,279.2 130.83,275.89 136.57,272.32 142.32,269.77 148.07,266.21 153.81,264.25 159.56,264.25 165.3,264.25 171.05,264.25 176.8,264.25 182.54,264.25 188.29,264.25 194.03,266.21 199.78,269.77 205.53,272.32 211.27,275.89 217.02,279.2 222.76,282.25 228.51,286.84 234.26,291.81 240,299.07 245.75,305.43 251.49,310.86 257.24,316.13 262.99,321.86 268.73,326.76 274.48,331.67 280.22,336 285.97,340.69 291.72,345.27 297.46,349.68 303.21,353.45 308.95,359 314.7,360.33" fill="none" stroke="#000" stroke-width="0.7"/>
<polygon points="27.4,357.75 25.13,361.75 29.67,361.75" fill="#fff" stroke="#000" stroke-width="0.7"/>
<polygon points="33.15,356.42 30.88,360.43 35.42,360.43" fill="#fff" stroke="#000" stroke-width="0.7"/>
<polygon points="38.89,350.87 36.62,354.87 41.16,354.87" fill="#fff" stroke="#000" stroke-width="0.7"/>
<polygon points="44.64,347.1 42.37,351.1 46.91,351.1" fill="#fff" stroke="#000" stroke-width="0.7"/>
<polygon points="50.38,342.69 48.11,346.7 52.65,346.7" fill="#fff" stroke="#000" stroke-width="0.7"/>
<polygon points="56.13,338.11 53.86,342.11 58.4,342.11" fill="#fff" stroke="#000" stroke-width="0.7"/>
<polygon points="61.88,333.42 59.61,337.43 64.15,337.43" fill="#fff" stroke="#000" stroke-width="0.7"/>
<polygon points="67.62,329.09 65.35,333.1 69.89,333.1" fill="#fff" stroke="#000" stroke-width="0.7"/>
<polygon points="73.37,324.17 71.1,328.18 75.64,328.18" fill="#fff" stroke="#000" stroke-width="0.7"/>
<polygon points="79.11,319.28 76.84,323.29 81.38,323.29" fill="#fff" stroke="#000" stroke-width="0.7"/>
<polygon points="84.86,313.55 82.59,317.56 87.13,317.56" fill="#fff" stroke="#000" stroke-width="0.7"/>
<polygon points="90.61,308.28 88.34,312.28 92.88,312.28" fill="#fff" stroke="#000" stroke-width="0.7"/>
<polygon points="96.35,302.85 94.08,306.86 98.62,306.86" fill="#fff" stroke="#000" stroke-width="0.7"/>
<polygon points="102.1,296.49 99.83,300.49 104.37,300.49" fill="#fff" stroke="#000" stroke-width="0.7"/>
<polygon points="107.84,289.23 105.57,293.23 110.11,293.23" fill="#fff" stroke="#000" stroke-width="0.7"/>
<polygon points="113.59,284.26 111.32,288.26 115.86,288.26" fill="#fff" stroke="#000" stroke-width="0.7"/>
<polygon points="119.34,279.67 117.07,283.68 121.61,283.68" fill="#fff" stroke="#000" stroke-width="0.7"/>
<polygon points="125.08,276.62 122.81,280.62 127.35,280.62" fill="#fff" stroke="#000" stroke-width="0.7"/>
<polygon points="130.83,273.31 128.56,277.31 133.1,277.31" fill="#fff" stroke="#000" stroke-width="0.7"/>
<polygon points="136.57,269.74 134.3,273.74 138.84,273.74" fill="#fff" stroke="#000" stroke-width="0.7"/>
<polygon points="142.32,267.19 140.05,271.2 144.59,271.2" fill="#fff" stroke="#000" stroke-width="0.7"/>
<polygon points="148.07,263.63 145.8,267.63 150.34,267.63" fill="#fff" stroke="#000" stroke-width="0.7"/>
<polygon points="153.81,261.66 151.54,265.67 156.08,265.67" fill="#fff" stroke="#000" stroke-width="0.7"/>
<polygon points="159.56,261.66 157.29,265.67 161.83,265.67" fill="#fff" stroke="#000" stroke-width="0.7"/>
<polygon points="165.3,261.66 163.03,265.67 167.57,265.67" fill="#fff" stroke="#000" stroke-width="0.7"/>
<polygon points="171.05,261.66 168.78,265.67 173.32,265.67" fill="#fff" stroke="#000" stroke-width="0.7"/>
<polygon points="176.8,261.66 174.53,265.67 179.07,265.67" fill="#fff" stroke="#000" stroke-width="0.7"/>
<polygon points="182.54,261.66 180.27,265.67 184.81,265.67" fill="#fff" stroke="#000" stroke-width="0.7"/>
<polygon points="188.29,261.66 186.02,265.67 190.56,265.67" fill="#fff" stroke="#000" stroke-width="0.7"/>
<polygon points="194.03,263.63 191.76,267.63 196.3,267.63" fill="#fff" stroke="#000" stroke-width="0.7"/>
<polygon points="199.78,267.19 197.51,271.2 202.05,271.2" fill="#fff" stroke="#000" stroke-width="0.7"/>
<polygon points="205.53,269.74 203.26,273.74 207.8,273.74" fill="#fff" stroke="#000" stroke-width="0.7"/>
<polygon points="211.27,273.31 209,277.31 213.54,277.31" fill="#fff" stroke="#000" stroke-width="0.7"/>
<polygon points="217.02,276.62 214.75,280.62 219.29,280.62" fill="#fff" stroke="#000" stroke-width="0.7"/>
<polygon points="222.76,279.67 220.49,283.68 225.03,283.68" fill="#fff" stroke="#000" stroke-width="0.7"/>
<polygon points="228.51,284.26 226.24,288.26 230.78,288.26" fill="#fff" stroke="#000" stroke-width="0.7"/>
<polygon points="234.26,289.23 231.99,293.23 236.53,293.23" fill="#fff" stroke="#000" stroke-width="0.7"/>
<polygon points="240,296.49 237.73,300.49 242.27,300.49" fill="#fff" stroke="#000" stroke-width="0.7"/>
<polygon points="245.75,302.85 243.48,306.86 248.02,306.86" fill="#fff" stroke="#000" stroke-width="0.7"/>
<polygon points="251.49,308.28 249.22,312.28 253.76,312.28" fill="#fff" stroke="#000" stroke-width="0.7"/>
<polygon points="257.24,313.55 254.97,317.56 259.51,317.56" fill="#fff" stroke="#000" stroke-width="0.7"/>
<polygon points="262.99,319.28 260.72,323.29 265.26,323.29" fill="#fff" stroke="#000" stroke-width="0.7"/>
<polygon points="268.73,324.17 266.46,328.18 271,328.18" fill="#fff" stroke="#000" stroke-width="0.7"/>
<polygon points="274.48,329.09 272.21,333.1 276.75,333.1" fill="#fff" stroke="#000" stroke-width="0.7"/>
<polygon points="280.22,333.42 277.95,337.43 282.49,337.43" fill="#fff" stroke="#000" stroke-width="0.7"/>
<polygon points="285.97,338.11 283.7,342.11 288.24,342.11" fill="#fff" stroke="#000" stroke-width="0.7"/>
<polygon points="291.72,342.69 289.45,346.7 293.99,346.7" fill="#fff" stroke="#000" stroke-width="0.7"/>
<polygon points="297.46,347.1 295.19,351.1 299.73,351.1" fill="#fff" stroke="#000" stroke-width="0.7"/>
<polygon points="303.21,350.87 300.94,354.87 305.48,354.87" fill="#fff" stroke="#000" stroke-width="0.7"/>
<polygon points="308.95,356.42 306.68,360.43 311.22,360.43" fill="#fff" stroke="#000" stroke-width="0.7"/>
<polygon points="314.7,357.75 312.43,361.75 316.97,361.75" fill="#fff" stroke="#000" stroke-width="0.7"/>
<polyline points="27.4,367.84 33.15,365.55 38.89,362.49 44.64,358.42 50.38,353.45 56.13,348.87 61.88,344.79 67.62,339.39 73.37,334.47 79.11,329.2 84.86,323.01 90.61,316.64 96.35,310.4 102.1,303.01 107.84,295.63 113.59,289.57 119.34,284.8 125.08,281.11 130.83,277.29 136.57,274.61 142.32,269.65 148.07,266.46 153.81,263.15 159.56,263.15 165.3,263.15 171.05,263.15 176.8,263.15 182.54,263.15 188.29,263.15 194.03,266.46 199.78,269.65 205.53,274.61 211.27,277.29 217.02,281.11 222.76,284.8 228.51,289.57 234.26,295.63 240,303.01 245.75,310.4 251.49,316.64 257.24,323.01 262.99,329.2 268.73,334.47 274.48,339.39 280.22,344.79 285.97,348.87 291.72,353.45 297.46,358.42 303.21,362.49 308.95,365.55 314.7,367.84" fill="none" stroke="#000" stroke-width="0.7"/>
<rect x="25.58" y="366.02" width="3.65" height="3.65" fill="#000"/>
<rect x="31.32" y="363.73" width="3.65" height="3.65" fill="#000"/>
<rect x="37.07" y="360.67" width="3.65" height="3.65" fill="#000"/>
<rect x="42.81" y="356.59" width="3.65" height="3.65" fill="#000"/>
<rect x="48.56" y="351.63" width="3.65" height="3.65" fill="#000"/>
<rect x="54.31" y="347.04" width="3.65" height="3.65" fill="#000"/>
<rect x="60.05" y="342.97" width="3.65" height="3.65" fill="#000"/>
<rect x="65.8" y="337.57" width="3.65" height="3.65" fill="#000"/>
<rect x="71.54" y="332.65" width="3.65" height="3.65" fill="#000"/>
<rect x="77.29" y="327.38" width="3.65" height="3.65" fill="#000"/>
<rect x="83.04" y="321.19" width="3.65" height="3.65" fill="#000"/>
<rect x="88.78" y="314.82" width="3.65" height="3.65" fill="#000"/>
<rect x="94.53" y="308.58" width="3.65" height="3.65" fill="#000"/>
<rect x="100.27" y="301.19" width="3.65" height="3.65" fill="#000"/>
<rect x="106.02" y="293.8" width="3.65" height="3.65" fill="#000"/>
<rect x="111.77" y="287.74" width="3.65" height="3.65" fill="#000"/>
<rect x="117.51" y="282.98" width="3.65" height="3.65" fill="#000"/>
<rect x="123.26" y="279.28" width="3.65" height="3.65" fill="#000"/>
<rect x="129" y="275.46" width="3.65" height="3.65" fill="#000"/>
<rect x="134.75" y="272.79" width="3.65" height="3.65" fill="#000"/>
<rect x="140.5" y="267.82" width="3.65" height="3.65" fill="#000"/>
<rect x="146.24" y="264.64" width="3.65" height="3.65" fill="#000"/>
<rect x="151.99" y="261.33" width="3.65" height="3.65" fill="#000"/>
<rect x="157.73" y="261.33" width="3.65" height="3.65" fill="#000"/>
<rect x="163.48" y="261.33" width="3.65" height="3.65" fill="#000"/>
<rect x="169.23" y="261.33" width="3.65" height="3.65" fill="#000"/>
<rect x="174.97" y="261.33" width="3.65" height="3.65" fill="#000"/>
<rect x="180.72" y="261.33" width="3.65" height="3.65" fill="#000"/>
<rect x="186.46" y="261.33" width="3.65" height="3.65" fill="#000"/>
<rect x="192.21" y="264.64" width="3.65" height="3.65" fill="#000"/>
<rect x="197.96" y="267.82" width="3.65" height="3.65" fill="#000"/>
<rect x="203.7" y="272.79" width="3.65" height="3.65" fill="#000"/>
<rect x="209.45" y="275.46" width="3.65" height="3.65" fill="#000"/>
<rect x="215.19" y="279.28" width="3.65" height="3.65" fill="#000"/>
<rect x="220.94" y="282.98" width="3.65" height="3.65" fill="#000"/>
<rect x="226.69" y="287.74" width="3.65" height="3.65" fill="#000"/>
<rect x="232.43" y="293.8" width="3.65" height="3.65" fill="#000"/>
<rect x="238.18" y="301.19" width="3.65" height="3.65" fill="#000"/>
<rect x="243.92" y="308.58" width="3.65" height="3.65" fill="#000"/>
<rect x="249.67" y="314.82" width="3.65" height="3.65" fill="#000"/>
<rect x="255.42" y="321.19" width="3.65" height="3.65" fill="#000"/>
<rect x="261.16" y="327.38" width="3.65" height="3.65" fill="#000"/>
<rect x="266.91" y="332.65" width="3.65" height="3.65" fill="#000"/>
<rect x="272.65" y="337.57" width="3.65" height="3.65" fill="#000"/>
<rect x="278.4" y="342.97" width="3.65" height="3.65" fill="#000"/>
<rect x="284.15" y="347.04" width="3.65" height="3.65" fill="#000"/>
<rect x="289.89" y="351.63" width="3.65" height="3.65" fill="#000"/>
<rect x="295.64" y="356.59" width="3.65" height="3.65" fill="#000"/>
<rect x="301.38" y="360.67" width="3.65" height="3.65" fill="#000"/>
<rect x="307.13" y="363.73" width="3.65" height="3.65" fill="#000"/>
<rect x="312.88" y="366.02" width="3.65" height="3.65" fill="#000"/>
</g>
<rect x="27.4" y="244.3" width="287.3" height="140.1" fill="none" stroke="#000" stroke-width="0.75"/>
<line x1="27.4" y1="384.4" x2="27.4" y2="381.64" stroke="#000" stroke-width="0.7"/>
<text x="27.4" y="394.8" font-size="8" text-anchor="middle">0.0</text>
<line x1="41.77" y1="384.4" x2="41.77" y2="382.98" stroke="#000" stroke-width="0.7"/>
<line x1="56.13" y1="384.4" x2="56.13" y2="381.64" stroke="#000" stroke-width="0.7"/>
<text x="56.13" y="394.8" font-size="8" text-anchor="middle">0.5</text>
<line x1="70.5" y1="384.4" x2="70.5" y2="382.98" stroke="#000" stroke-width="0.7"/>
<line x1="84.86" y1="384.4" x2="84.86" y2="381.64" stroke="#000" stroke-width="0.7"/>
<text x="84.86" y="394.8" font-size="8" text-anchor="middle">1.0</text>
<line x1="99.22" y1="384.4" x2="99.22" y2="382.98" stroke="#000" stroke-width="0.7"/>
<line x1="113.59" y1="384.4" x2="113.59" y2="381.64" stroke="#000" stroke-width="0.7"/>
<text x="113.59" y="394.8" font-size="8" text-anchor="middle">1.5</text>
<line x1="127.95" y1="384.4" x2="127.95" y2="382.98" stroke="#000" stroke-width="0.7"/>
<line x1="142.32" y1="384.4" x2="142.32" y2="381.64" stroke="#000" stroke-width="0.7"/>
<text x="142.32" y="394.8" font-size="8" text-anchor="middle">2.0</text>
<line x1="156.69" y1="384.4" x2="156.69" y2="382.98" stroke="#000" stroke-width="0.7"/>
<line x1="171.05" y1="384.4" x2="171.05" y2="381.64" stroke="#000" stroke-width="0.7"/>
<text x="171.05" y="394.8" font-size="8" text-anchor="middle">2.5</text>
<line x1="185.42" y1="384.4" x2="185.42" y2="382.98" stroke="#000" stroke-width="0.7"/>
<line x1="199.78" y1="384.4" x2="199.78" y2="381.64" stroke="#000" stroke-width="0.7"/>
<text x="199.78" y="394.8" font-size="8" text-anchor="middle">3.0</text>
<line x1="214.15" y1="384.4" x2="214.15" y2="382.98" stroke="#000" stroke-width="0.7"/>
<line x1="228.51" y1="384.4" x2="228.51" y2="381.64" stroke="#000" stroke-width="0.7"/>
<text x="228.51" y="394.8" font-size="8" text-anchor="middle">3.5</text>
<line x1="242.88" y1="384.4" x2="242.88" y2="382.98" stroke="#000" stroke-width="0.7"/>
<line x1="257.24" y1="384.4" x2="257.24" y2="381.64" stroke="#000" stroke-width="0.7"/>
<text x="257.24" y="394.8" font-size="8" text-anchor="middle">4.0</text>
<line x1="271.61" y1="384.4" x2="271.61" y2="382.98" stroke="#000" stroke-width="0.7"/>
<line x1="285.97" y1="384.4" x2="285.97" y2="381.64" stroke="#000" stroke-width="0.7"/>
<text x="285.97" y="394.8" font-size="8" text-anchor="middle">4.5</text>
<line x1="300.33" y1="384.4" x2="300.33" y2="382.98" stroke="#000" stroke-width="0.7"/>
<line x1="314.7" y1="384.4" x2="314.7" y2="381.64" stroke="#000" stroke-width="0.7"/>
<text x="314.7" y="394.8" font-size="8" text-anchor="middle">5.0</text>
<line x1="27.4" y1="371.66" x2="30.25" y2="371.66" stroke="#000" stroke-width="0.7"/>
<text x="23.31" y="375.2" font-size="8" text-anchor="end">0.0</text>
<line x1="27.4" y1="346.19" x2="30.25" y2="346.19" stroke="#000" stroke-width="0.7"/>
<text x="23.31" y="349.73" font-size="8" text-anchor="end">0.1</text>
<line x1="27.4" y1="320.72" x2="30.25" y2="320.72" stroke="#000" stroke-width="0.7"/>
<text x="23.31" y="324.26" font-size="8" text-anchor="end">0.2</text>
<line x1="27.4" y1="295.25" x2="30.25" y2="295.25" stroke="#000" stroke-width="0.7"/>
<text x="23.31" y="298.79" font-size="8" text-anchor="end">0.3</text>
<line x1="27.4" y1="269.77" x2="30.25" y2="269.77" stroke="#000" stroke-width="0.7"/>
<text x="23.31" y="273.31" font-size="8" text-anchor="end">0.4</text>
<line x1="27.4" y1="244.3" x2="30.25" y2="244.3" stroke="#000" stroke-width="0.7"/>
<text x="23.31" y="247.84" font-size="8" text-anchor="end">0.5</text>
<line x1="27.4" y1="358.93" x2="28.73" y2="358.93" stroke="#000" stroke-width="0.7"/>
<line x1="27.4" y1="333.45" x2="28.73" y2="333.45" stroke="#000" stroke-width="0.7"/>
<line x1="27.4" y1="307.98" x2="28.73" y2="307.98" stroke="#000" stroke-width="0.7"/>
<line x1="27.4" y1="282.51" x2="28.73" y2="282.51" stroke="#000" stroke-width="0.7"/>
<line x1="27.4" y1="257.04" x2="28.73" y2="257.04" stroke="#000" stroke-width="0.7"/>
<text x="171.05" y="409.2" font-size="11.4" text-anchor="middle">width(10<tspan font-size="7.52" dy="-4.56">2</tspan><tspan dy="4.56">mm)</tspan></text>
<text x="172.25" y="423.8" font-size="11.4" text-anchor="middle">(b)</text>
<text transform="translate(9.5,314.35) rotate(-90)" font-size="11.4" text-anchor="middle">X-direction strain(10<tspan font-size="7.07" dy="-5.13">−4</tspan><tspan dy="5.13">)</tspan></text>
<line x1="133.76" y1="304.5" x2="208.34" y2="304.5" stroke="#000" stroke-width="1"/>
<polygon points="124.51,304.5 140.53,300.23 136.08,304.5 140.53,308.77" fill="#000"/>
<polygon points="217.59,304.5 201.57,300.23 206.02,304.5 201.57,308.77" fill="#000"/>
<text x="169.6" y="296.2" font-size="10.2" text-anchor="middle">Γ</text>
<text x="134.75" y="338.8" font-size="8.3">σ<tspan font-size="5.15" dy="1.83">s</tspan><tspan dy="-1.83">=445MPa</tspan></text>
<text x="134.75" y="351.4" font-size="8.3">Plastic ratio=66.7%</text>
<line x1="255.1" y1="253.5" x2="274.6" y2="253.5" stroke="#000" stroke-width="0.7"/>
<polygon points="264.85,250.66 262.35,255.07 267.35,255.07" fill="#000"/>
<text x="276.7" y="255.9" font-size="8">s<tspan dx="1.44">′</tspan></text>
<text x="288.9" y="255.9" font-size="8">1mm</text>
<line x1="255.1" y1="264.5" x2="274.6" y2="264.5" stroke="#000" stroke-width="0.7"/>
<circle cx="264.85" cy="264.5" r="1.82" fill="#fff" stroke="#000" stroke-width="0.7"/>
<text x="276.7" y="266.9" font-size="8">s<tspan dx="1.44">′</tspan></text>
<text x="288.9" y="266.9" font-size="8">2mm</text>
<line x1="255.1" y1="275.3" x2="274.6" y2="275.3" stroke="#808080" stroke-width="0.7"/>
<polygon points="264.85,272.72 262.58,276.72 267.12,276.72" fill="#fff" stroke="#000" stroke-width="0.7"/>
<text x="276.7" y="277.7" font-size="8">s<tspan dx="1.44">′</tspan></text>
<text x="288.9" y="277.7" font-size="8">3mm</text>
<line x1="255.1" y1="286.1" x2="274.6" y2="286.1" stroke="#000" stroke-width="0.7"/>
<rect x="263.03" y="284.28" width="3.65" height="3.65" fill="#000"/>
<text x="276.7" y="288.5" font-size="8">s<tspan dx="1.44">′</tspan></text>
<text x="288.9" y="288.5" font-size="8">4mm</text>
<clipPath id="clipc"><rect x="388.3" y="244.3" width="291.5" height="140.1"/></clipPath>
<line x1="499.07" y1="273" x2="499.07" y2="384.4" stroke="#000" stroke-width="0.8" stroke-dasharray="4 2.8"/>
<line x1="568.16" y1="273" x2="568.16" y2="384.4" stroke="#000" stroke-width="0.8" stroke-dasharray="4 2.8"/>
<g clip-path="url(#clipc)">
<polyline points="388.3,311.08 394.13,319.95 399.96,302.44 405.79,306.18 411.62,303.96 417.45,301.04 423.28,298.12 429.11,295.14 434.94,291.58 440.77,288.26 446.6,287.15 452.43,283.7 458.26,281.19 464.09,278.45 469.92,276.7 475.75,274.71 481.58,273.78 487.41,272.03 493.24,271.15 499.07,270.34 504.9,269.52 510.73,268.82 516.56,268.35 522.39,268.23 528.22,268.23 534.05,268.23 539.88,268.23 545.71,268.23 551.54,268.35 557.37,268.82 563.2,269.52 569.03,270.34 574.86,271.15 580.69,272.03 586.52,273.78 592.35,274.71 598.18,276.7 604.01,278.45 609.84,281.19 615.67,283.7 621.5,287.15 627.33,288.26 633.16,291.58 638.99,295.14 644.82,298.12 650.65,301.04 656.48,303.96 662.31,306.18 668.14,302.44 673.97,319.95 679.8,311.08" fill="none" stroke="#000" stroke-width="0.7"/>
<polygon points="388.3,308.24 385.8,312.65 390.8,312.65" fill="#000"/>
<polygon points="394.13,317.11 391.63,321.52 396.63,321.52" fill="#000"/>
<polygon points="399.96,299.6 397.46,304.01 402.46,304.01" fill="#000"/>
<polygon points="405.79,303.34 403.29,307.74 408.29,307.74" fill="#000"/>
<polygon points="411.62,301.12 409.12,305.53 414.12,305.53" fill="#000"/>
<polygon points="417.45,298.2 414.95,302.61 419.95,302.61" fill="#000"/>
<polygon points="423.28,295.28 420.78,299.69 425.78,299.69" fill="#000"/>
<polygon points="429.11,292.31 426.61,296.71 431.61,296.71" fill="#000"/>
<polygon points="434.94,288.74 432.44,293.15 437.44,293.15" fill="#000"/>
<polygon points="440.77,285.42 438.27,289.82 443.27,289.82" fill="#000"/>
<polygon points="446.6,284.31 444.1,288.71 449.1,288.71" fill="#000"/>
<polygon points="452.43,280.86 449.93,285.27 454.93,285.27" fill="#000"/>
<polygon points="458.26,278.35 455.76,282.76 460.76,282.76" fill="#000"/>
<polygon points="464.09,275.61 461.59,280.02 466.59,280.02" fill="#000"/>
<polygon points="469.92,273.86 467.42,278.26 472.42,278.26" fill="#000"/>
<polygon points="475.75,271.87 473.25,276.28 478.25,276.28" fill="#000"/>
<polygon points="481.58,270.94 479.08,275.35 484.08,275.35" fill="#000"/>
<polygon points="487.41,269.19 484.91,273.59 489.91,273.59" fill="#000"/>
<polygon points="493.24,268.31 490.74,272.72 495.74,272.72" fill="#000"/>
<polygon points="499.07,267.5 496.57,271.9 501.57,271.9" fill="#000"/>
<polygon points="504.9,266.68 502.4,271.08 507.4,271.08" fill="#000"/>
<polygon points="510.73,265.98 508.23,270.38 513.23,270.38" fill="#000"/>
<polygon points="516.56,265.51 514.06,269.92 519.06,269.92" fill="#000"/>
<polygon points="522.39,265.39 519.89,269.8 524.89,269.8" fill="#000"/>
<polygon points="528.22,265.39 525.72,269.8 530.72,269.8" fill="#000"/>
<polygon points="534.05,265.39 531.55,269.8 536.55,269.8" fill="#000"/>
<polygon points="539.88,265.39 537.38,269.8 542.38,269.8" fill="#000"/>
<polygon points="545.71,265.39 543.21,269.8 548.21,269.8" fill="#000"/>
<polygon points="551.54,265.51 549.04,269.92 554.04,269.92" fill="#000"/>
<polygon points="557.37,265.98 554.87,270.38 559.87,270.38" fill="#000"/>
<polygon points="563.2,266.68 560.7,271.08 565.7,271.08" fill="#000"/>
<polygon points="569.03,267.5 566.53,271.9 571.53,271.9" fill="#000"/>
<polygon points="574.86,268.31 572.36,272.72 577.36,272.72" fill="#000"/>
<polygon points="580.69,269.19 578.19,273.59 583.19,273.59" fill="#000"/>
<polygon points="586.52,270.94 584.02,275.35 589.02,275.35" fill="#000"/>
<polygon points="592.35,271.87 589.85,276.28 594.85,276.28" fill="#000"/>
<polygon points="598.18,273.86 595.68,278.26 600.68,278.26" fill="#000"/>
<polygon points="604.01,275.61 601.51,280.02 606.51,280.02" fill="#000"/>
<polygon points="609.84,278.35 607.34,282.76 612.34,282.76" fill="#000"/>
<polygon points="615.67,280.86 613.17,285.27 618.17,285.27" fill="#000"/>
<polygon points="621.5,284.31 619,288.71 624,288.71" fill="#000"/>
<polygon points="627.33,285.42 624.83,289.82 629.83,289.82" fill="#000"/>
<polygon points="633.16,288.74 630.66,293.15 635.66,293.15" fill="#000"/>
<polygon points="638.99,292.31 636.49,296.71 641.49,296.71" fill="#000"/>
<polygon points="644.82,295.28 642.32,299.69 647.32,299.69" fill="#000"/>
<polygon points="650.65,298.2 648.15,302.61 653.15,302.61" fill="#000"/>
<polygon points="656.48,301.12 653.98,305.53 658.98,305.53" fill="#000"/>
<polygon points="662.31,303.34 659.81,307.74 664.81,307.74" fill="#000"/>
<polygon points="668.14,299.6 665.64,304.01 670.64,304.01" fill="#000"/>
<polygon points="673.97,317.11 671.47,321.52 676.47,321.52" fill="#000"/>
<polygon points="679.8,308.24 677.3,312.65 682.3,312.65" fill="#000"/>
<polyline points="388.3,346.65 394.13,349.67 399.96,333.56 405.79,334.72 411.62,331.1 417.45,327.48 423.28,324.04 429.11,319.31 434.94,315.05 440.77,310.26 446.6,305.71 452.43,300.92 458.26,296.6 464.09,292.28 469.92,288.08 475.75,284.99 481.58,282.07 487.41,278.74 493.24,274.71 499.07,272.44 504.9,270.74 510.73,269.4 516.56,268.47 522.39,268.06 528.22,267.83 534.05,267.65 539.88,267.83 545.71,268.06 551.54,268.47 557.37,269.4 563.2,270.74 569.03,272.44 574.86,274.71 580.69,278.74 586.52,282.07 592.35,284.99 598.18,288.08 604.01,292.28 609.84,296.6 615.67,300.92 621.5,305.71 627.33,310.26 633.16,315.05 638.99,319.31 644.82,324.04 650.65,327.48 656.48,331.1 662.31,334.72 668.14,333.56 673.97,349.67 679.8,346.65" fill="none" stroke="#000" stroke-width="0.7"/>
<circle cx="388.3" cy="346.65" r="1.82" fill="#fff" stroke="#000" stroke-width="0.7"/>
<circle cx="394.13" cy="349.67" r="1.82" fill="#fff" stroke="#000" stroke-width="0.7"/>
<circle cx="399.96" cy="333.56" r="1.82" fill="#fff" stroke="#000" stroke-width="0.7"/>
<circle cx="405.79" cy="334.72" r="1.82" fill="#fff" stroke="#000" stroke-width="0.7"/>
<circle cx="411.62" cy="331.1" r="1.82" fill="#fff" stroke="#000" stroke-width="0.7"/>
<circle cx="417.45" cy="327.48" r="1.82" fill="#fff" stroke="#000" stroke-width="0.7"/>
<circle cx="423.28" cy="324.04" r="1.82" fill="#fff" stroke="#000" stroke-width="0.7"/>
<circle cx="429.11" cy="319.31" r="1.82" fill="#fff" stroke="#000" stroke-width="0.7"/>
<circle cx="434.94" cy="315.05" r="1.82" fill="#fff" stroke="#000" stroke-width="0.7"/>
<circle cx="440.77" cy="310.26" r="1.82" fill="#fff" stroke="#000" stroke-width="0.7"/>
<circle cx="446.6" cy="305.71" r="1.82" fill="#fff" stroke="#000" stroke-width="0.7"/>
<circle cx="452.43" cy="300.92" r="1.82" fill="#fff" stroke="#000" stroke-width="0.7"/>
<circle cx="458.26" cy="296.6" r="1.82" fill="#fff" stroke="#000" stroke-width="0.7"/>
<circle cx="464.09" cy="292.28" r="1.82" fill="#fff" stroke="#000" stroke-width="0.7"/>
<circle cx="469.92" cy="288.08" r="1.82" fill="#fff" stroke="#000" stroke-width="0.7"/>
<circle cx="475.75" cy="284.99" r="1.82" fill="#fff" stroke="#000" stroke-width="0.7"/>
<circle cx="481.58" cy="282.07" r="1.82" fill="#fff" stroke="#000" stroke-width="0.7"/>
<circle cx="487.41" cy="278.74" r="1.82" fill="#fff" stroke="#000" stroke-width="0.7"/>
<circle cx="493.24" cy="274.71" r="1.82" fill="#fff" stroke="#000" stroke-width="0.7"/>
<circle cx="499.07" cy="272.44" r="1.82" fill="#fff" stroke="#000" stroke-width="0.7"/>
<circle cx="504.9" cy="270.74" r="1.82" fill="#fff" stroke="#000" stroke-width="0.7"/>
<circle cx="510.73" cy="269.4" r="1.82" fill="#fff" stroke="#000" stroke-width="0.7"/>
<circle cx="516.56" cy="268.47" r="1.82" fill="#fff" stroke="#000" stroke-width="0.7"/>
<circle cx="522.39" cy="268.06" r="1.82" fill="#fff" stroke="#000" stroke-width="0.7"/>
<circle cx="528.22" cy="267.83" r="1.82" fill="#fff" stroke="#000" stroke-width="0.7"/>
<circle cx="534.05" cy="267.65" r="1.82" fill="#fff" stroke="#000" stroke-width="0.7"/>
<circle cx="539.88" cy="267.83" r="1.82" fill="#fff" stroke="#000" stroke-width="0.7"/>
<circle cx="545.71" cy="268.06" r="1.82" fill="#fff" stroke="#000" stroke-width="0.7"/>
<circle cx="551.54" cy="268.47" r="1.82" fill="#fff" stroke="#000" stroke-width="0.7"/>
<circle cx="557.37" cy="269.4" r="1.82" fill="#fff" stroke="#000" stroke-width="0.7"/>
<circle cx="563.2" cy="270.74" r="1.82" fill="#fff" stroke="#000" stroke-width="0.7"/>
<circle cx="569.03" cy="272.44" r="1.82" fill="#fff" stroke="#000" stroke-width="0.7"/>
<circle cx="574.86" cy="274.71" r="1.82" fill="#fff" stroke="#000" stroke-width="0.7"/>
<circle cx="580.69" cy="278.74" r="1.82" fill="#fff" stroke="#000" stroke-width="0.7"/>
<circle cx="586.52" cy="282.07" r="1.82" fill="#fff" stroke="#000" stroke-width="0.7"/>
<circle cx="592.35" cy="284.99" r="1.82" fill="#fff" stroke="#000" stroke-width="0.7"/>
<circle cx="598.18" cy="288.08" r="1.82" fill="#fff" stroke="#000" stroke-width="0.7"/>
<circle cx="604.01" cy="292.28" r="1.82" fill="#fff" stroke="#000" stroke-width="0.7"/>
<circle cx="609.84" cy="296.6" r="1.82" fill="#fff" stroke="#000" stroke-width="0.7"/>
<circle cx="615.67" cy="300.92" r="1.82" fill="#fff" stroke="#000" stroke-width="0.7"/>
<circle cx="621.5" cy="305.71" r="1.82" fill="#fff" stroke="#000" stroke-width="0.7"/>
<circle cx="627.33" cy="310.26" r="1.82" fill="#fff" stroke="#000" stroke-width="0.7"/>
<circle cx="633.16" cy="315.05" r="1.82" fill="#fff" stroke="#000" stroke-width="0.7"/>
<circle cx="638.99" cy="319.31" r="1.82" fill="#fff" stroke="#000" stroke-width="0.7"/>
<circle cx="644.82" cy="324.04" r="1.82" fill="#fff" stroke="#000" stroke-width="0.7"/>
<circle cx="650.65" cy="327.48" r="1.82" fill="#fff" stroke="#000" stroke-width="0.7"/>
<circle cx="656.48" cy="331.1" r="1.82" fill="#fff" stroke="#000" stroke-width="0.7"/>
<circle cx="662.31" cy="334.72" r="1.82" fill="#fff" stroke="#000" stroke-width="0.7"/>
<circle cx="668.14" cy="333.56" r="1.82" fill="#fff" stroke="#000" stroke-width="0.7"/>
<circle cx="673.97" cy="349.67" r="1.82" fill="#fff" stroke="#000" stroke-width="0.7"/>
<circle cx="679.8" cy="346.65" r="1.82" fill="#fff" stroke="#000" stroke-width="0.7"/>
<polyline points="388.3,361.46 394.13,362.57 399.96,346.16 405.79,344.53 411.62,339.8 417.45,335.19 423.28,330.29 429.11,325.44 434.94,320.48 440.77,315.87 446.6,311.08 452.43,306.88 458.26,302.56 464.09,298.71 469.92,294.74 475.75,290.71 481.58,288.08 487.41,285.8 493.24,282.07 499.07,278.45 504.9,276.06 510.73,273.78 516.56,272.03 522.39,271.15 528.22,270.74 534.05,270.45 539.88,270.74 545.71,271.15 551.54,272.03 557.37,273.78 563.2,276.06 569.03,278.45 574.86,282.07 580.69,285.8 586.52,288.08 592.35,290.71 598.18,294.74 604.01,298.71 609.84,302.56 615.67,306.88 621.5,311.08 627.33,315.87 633.16,320.48 638.99,325.44 644.82,330.29 650.65,335.19 656.48,339.8 662.31,344.53 668.14,346.16 673.97,362.57 679.8,361.46" fill="none" stroke="#000" stroke-width="0.7"/>
<polygon points="388.3,358.97 390.79,361.46 388.3,363.95 385.81,361.46" fill="#fff" stroke="#000" stroke-width="0.7"/>
<polygon points="394.13,360.08 396.62,362.57 394.13,365.06 391.64,362.57" fill="#fff" stroke="#000" stroke-width="0.7"/>
<polygon points="399.96,343.67 402.45,346.16 399.96,348.66 397.47,346.16" fill="#fff" stroke="#000" stroke-width="0.7"/>
<polygon points="405.79,342.04 408.28,344.53 405.79,347.02 403.3,344.53" fill="#fff" stroke="#000" stroke-width="0.7"/>
<polygon points="411.62,337.31 414.11,339.8 411.62,342.29 409.13,339.8" fill="#fff" stroke="#000" stroke-width="0.7"/>
<polygon points="417.45,332.7 419.94,335.19 417.45,337.68 414.96,335.19" fill="#fff" stroke="#000" stroke-width="0.7"/>
<polygon points="423.28,327.79 425.77,330.29 423.28,332.78 420.79,330.29" fill="#fff" stroke="#000" stroke-width="0.7"/>
<polygon points="429.11,322.95 431.6,325.44 429.11,327.93 426.62,325.44" fill="#fff" stroke="#000" stroke-width="0.7"/>
<polygon points="434.94,317.99 437.43,320.48 434.94,322.97 432.45,320.48" fill="#fff" stroke="#000" stroke-width="0.7"/>
<polygon points="440.77,313.38 443.26,315.87 440.77,318.36 438.28,315.87" fill="#fff" stroke="#000" stroke-width="0.7"/>
<polygon points="446.6,308.59 449.09,311.08 446.6,313.57 444.11,311.08" fill="#fff" stroke="#000" stroke-width="0.7"/>
<polygon points="452.43,304.39 454.92,306.88 452.43,309.37 449.94,306.88" fill="#fff" stroke="#000" stroke-width="0.7"/>
<polygon points="458.26,300.07 460.75,302.56 458.26,305.05 455.77,302.56" fill="#fff" stroke="#000" stroke-width="0.7"/>
<polygon points="464.09,296.21 466.58,298.71 464.09,301.2 461.6,298.71" fill="#fff" stroke="#000" stroke-width="0.7"/>
<polygon points="469.92,292.24 472.41,294.74 469.92,297.23 467.43,294.74" fill="#fff" stroke="#000" stroke-width="0.7"/>
<polygon points="475.75,288.22 478.24,290.71 475.75,293.2 473.26,290.71" fill="#fff" stroke="#000" stroke-width="0.7"/>
<polygon points="481.58,285.59 484.07,288.08 481.58,290.57 479.09,288.08" fill="#fff" stroke="#000" stroke-width="0.7"/>
<polygon points="487.41,283.31 489.9,285.8 487.41,288.3 484.92,285.8" fill="#fff" stroke="#000" stroke-width="0.7"/>
<polygon points="493.24,279.58 495.73,282.07 493.24,284.56 490.75,282.07" fill="#fff" stroke="#000" stroke-width="0.7"/>
<polygon points="499.07,275.96 501.56,278.45 499.07,280.94 496.58,278.45" fill="#fff" stroke="#000" stroke-width="0.7"/>
<polygon points="504.9,273.56 507.39,276.06 504.9,278.55 502.41,276.06" fill="#fff" stroke="#000" stroke-width="0.7"/>
<polygon points="510.73,271.29 513.22,273.78 510.73,276.27 508.24,273.78" fill="#fff" stroke="#000" stroke-width="0.7"/>
<polygon points="516.56,269.54 519.05,272.03 516.56,274.52 514.07,272.03" fill="#fff" stroke="#000" stroke-width="0.7"/>
<polygon points="522.39,268.66 524.88,271.15 522.39,273.64 519.9,271.15" fill="#fff" stroke="#000" stroke-width="0.7"/>
<polygon points="528.22,268.25 530.71,270.74 528.22,273.24 525.73,270.74" fill="#fff" stroke="#000" stroke-width="0.7"/>
<polygon points="534.05,267.96 536.54,270.45 534.05,272.94 531.56,270.45" fill="#fff" stroke="#000" stroke-width="0.7"/>
<polygon points="539.88,268.25 542.37,270.74 539.88,273.24 537.39,270.74" fill="#fff" stroke="#000" stroke-width="0.7"/>
<polygon points="545.71,268.66 548.2,271.15 545.71,273.64 543.22,271.15" fill="#fff" stroke="#000" stroke-width="0.7"/>
<polygon points="551.54,269.54 554.03,272.03 551.54,274.52 549.05,272.03" fill="#fff" stroke="#000" stroke-width="0.7"/>
<polygon points="557.37,271.29 559.86,273.78 557.37,276.27 554.88,273.78" fill="#fff" stroke="#000" stroke-width="0.7"/>
<polygon points="563.2,273.56 565.69,276.06 563.2,278.55 560.71,276.06" fill="#fff" stroke="#000" stroke-width="0.7"/>
<polygon points="569.03,275.96 571.52,278.45 569.03,280.94 566.54,278.45" fill="#fff" stroke="#000" stroke-width="0.7"/>
<polygon points="574.86,279.58 577.35,282.07 574.86,284.56 572.37,282.07" fill="#fff" stroke="#000" stroke-width="0.7"/>
<polygon points="580.69,283.31 583.18,285.8 580.69,288.3 578.2,285.8" fill="#fff" stroke="#000" stroke-width="0.7"/>
<polygon points="586.52,285.59 589.01,288.08 586.52,290.57 584.03,288.08" fill="#fff" stroke="#000" stroke-width="0.7"/>
<polygon points="592.35,288.22 594.84,290.71 592.35,293.2 589.86,290.71" fill="#fff" stroke="#000" stroke-width="0.7"/>
<polygon points="598.18,292.24 600.67,294.74 598.18,297.23 595.69,294.74" fill="#fff" stroke="#000" stroke-width="0.7"/>
<polygon points="604.01,296.21 606.5,298.71 604.01,301.2 601.52,298.71" fill="#fff" stroke="#000" stroke-width="0.7"/>
<polygon points="609.84,300.07 612.33,302.56 609.84,305.05 607.35,302.56" fill="#fff" stroke="#000" stroke-width="0.7"/>
<polygon points="615.67,304.39 618.16,306.88 615.67,309.37 613.18,306.88" fill="#fff" stroke="#000" stroke-width="0.7"/>
<polygon points="621.5,308.59 623.99,311.08 621.5,313.57 619.01,311.08" fill="#fff" stroke="#000" stroke-width="0.7"/>
<polygon points="627.33,313.38 629.82,315.87 627.33,318.36 624.84,315.87" fill="#fff" stroke="#000" stroke-width="0.7"/>
<polygon points="633.16,317.99 635.65,320.48 633.16,322.97 630.67,320.48" fill="#fff" stroke="#000" stroke-width="0.7"/>
<polygon points="638.99,322.95 641.48,325.44 638.99,327.93 636.5,325.44" fill="#fff" stroke="#000" stroke-width="0.7"/>
<polygon points="644.82,327.79 647.31,330.29 644.82,332.78 642.33,330.29" fill="#fff" stroke="#000" stroke-width="0.7"/>
<polygon points="650.65,332.7 653.14,335.19 650.65,337.68 648.16,335.19" fill="#fff" stroke="#000" stroke-width="0.7"/>
<polygon points="656.48,337.31 658.97,339.8 656.48,342.29 653.99,339.8" fill="#fff" stroke="#000" stroke-width="0.7"/>
<polygon points="662.31,342.04 664.8,344.53 662.31,347.02 659.82,344.53" fill="#fff" stroke="#000" stroke-width="0.7"/>
<polygon points="668.14,343.67 670.63,346.16 668.14,348.66 665.65,346.16" fill="#fff" stroke="#000" stroke-width="0.7"/>
<polygon points="673.97,360.08 676.46,362.57 673.97,365.06 671.48,362.57" fill="#fff" stroke="#000" stroke-width="0.7"/>
<polygon points="679.8,358.97 682.29,361.46 679.8,363.95 677.31,361.46" fill="#fff" stroke="#000" stroke-width="0.7"/>
<polyline points="388.3,372.43 394.13,372.14 399.96,357.66 405.79,355.68 411.62,351.07 417.45,346.98 423.28,343.36 429.11,339.8 434.94,335.19 440.77,330.64 446.6,326.14 452.43,321.59 458.26,316.39 464.09,309.8 469.92,301.51 475.75,294.09 481.58,288.72 487.41,283.41 493.24,278.04 499.07,270.98 504.9,267.01 510.73,262.75 516.56,259.65 522.39,258.02 528.22,256.97 534.05,256.73 539.88,256.97 545.71,258.02 551.54,259.65 557.37,262.75 563.2,267.01 569.03,270.98 574.86,278.04 580.69,283.41 586.52,288.72 592.35,294.09 598.18,301.51 604.01,309.8 609.84,316.39 615.67,321.59 621.5,326.14 627.33,330.64 633.16,335.19 638.99,339.8 644.82,343.36 650.65,346.98 656.48,351.07 662.31,355.68 668.14,357.66 673.97,372.14 679.8,372.43" fill="none" stroke="#000" stroke-width="0.7"/>
<rect x="386.48" y="370.61" width="3.65" height="3.65" fill="#000"/>
<rect x="392.31" y="370.32" width="3.65" height="3.65" fill="#000"/>
<rect x="398.14" y="355.84" width="3.65" height="3.65" fill="#000"/>
<rect x="403.97" y="353.85" width="3.65" height="3.65" fill="#000"/>
<rect x="409.8" y="349.24" width="3.65" height="3.65" fill="#000"/>
<rect x="415.63" y="345.16" width="3.65" height="3.65" fill="#000"/>
<rect x="421.46" y="341.54" width="3.65" height="3.65" fill="#000"/>
<rect x="427.29" y="337.98" width="3.65" height="3.65" fill="#000"/>
<rect x="433.12" y="333.37" width="3.65" height="3.65" fill="#000"/>
<rect x="438.95" y="328.81" width="3.65" height="3.65" fill="#000"/>
<rect x="444.78" y="324.32" width="3.65" height="3.65" fill="#000"/>
<rect x="450.61" y="319.76" width="3.65" height="3.65" fill="#000"/>
<rect x="456.44" y="314.57" width="3.65" height="3.65" fill="#000"/>
<rect x="462.27" y="307.97" width="3.65" height="3.65" fill="#000"/>
<rect x="468.1" y="299.68" width="3.65" height="3.65" fill="#000"/>
<rect x="473.93" y="292.27" width="3.65" height="3.65" fill="#000"/>
<rect x="479.76" y="286.9" width="3.65" height="3.65" fill="#000"/>
<rect x="485.59" y="281.59" width="3.65" height="3.65" fill="#000"/>
<rect x="491.42" y="276.22" width="3.65" height="3.65" fill="#000"/>
<rect x="497.25" y="269.15" width="3.65" height="3.65" fill="#000"/>
<rect x="503.08" y="265.18" width="3.65" height="3.65" fill="#000"/>
<rect x="508.91" y="260.92" width="3.65" height="3.65" fill="#000"/>
<rect x="514.74" y="257.83" width="3.65" height="3.65" fill="#000"/>
<rect x="520.57" y="256.19" width="3.65" height="3.65" fill="#000"/>
<rect x="526.4" y="255.14" width="3.65" height="3.65" fill="#000"/>
<rect x="532.23" y="254.91" width="3.65" height="3.65" fill="#000"/>
<rect x="538.06" y="255.14" width="3.65" height="3.65" fill="#000"/>
<rect x="543.89" y="256.19" width="3.65" height="3.65" fill="#000"/>
<rect x="549.72" y="257.83" width="3.65" height="3.65" fill="#000"/>
<rect x="555.55" y="260.92" width="3.65" height="3.65" fill="#000"/>
<rect x="561.38" y="265.18" width="3.65" height="3.65" fill="#000"/>
<rect x="567.21" y="269.15" width="3.65" height="3.65" fill="#000"/>
<rect x="573.04" y="276.22" width="3.65" height="3.65" fill="#000"/>
<rect x="578.87" y="281.59" width="3.65" height="3.65" fill="#000"/>
<rect x="584.7" y="286.9" width="3.65" height="3.65" fill="#000"/>
<rect x="590.53" y="292.27" width="3.65" height="3.65" fill="#000"/>
<rect x="596.36" y="299.68" width="3.65" height="3.65" fill="#000"/>
<rect x="602.19" y="307.97" width="3.65" height="3.65" fill="#000"/>
<rect x="608.02" y="314.57" width="3.65" height="3.65" fill="#000"/>
<rect x="613.85" y="319.76" width="3.65" height="3.65" fill="#000"/>
<rect x="619.68" y="324.32" width="3.65" height="3.65" fill="#000"/>
<rect x="625.51" y="328.81" width="3.65" height="3.65" fill="#000"/>
<rect x="631.34" y="333.37" width="3.65" height="3.65" fill="#000"/>
<rect x="637.17" y="337.98" width="3.65" height="3.65" fill="#000"/>
<rect x="643" y="341.54" width="3.65" height="3.65" fill="#000"/>
<rect x="648.83" y="345.16" width="3.65" height="3.65" fill="#000"/>
<rect x="654.66" y="349.24" width="3.65" height="3.65" fill="#000"/>
<rect x="660.49" y="353.85" width="3.65" height="3.65" fill="#000"/>
<rect x="666.32" y="355.84" width="3.65" height="3.65" fill="#000"/>
<rect x="672.15" y="370.32" width="3.65" height="3.65" fill="#000"/>
<rect x="677.98" y="370.61" width="3.65" height="3.65" fill="#000"/>
</g>
<rect x="388.3" y="244.3" width="291.5" height="140.1" fill="none" stroke="#000" stroke-width="0.75"/>
<line x1="388.3" y1="384.4" x2="388.3" y2="381.64" stroke="#000" stroke-width="0.7"/>
<text x="388.3" y="394.8" font-size="8" text-anchor="middle">0.0</text>
<line x1="402.88" y1="384.4" x2="402.88" y2="382.98" stroke="#000" stroke-width="0.7"/>
<line x1="417.45" y1="384.4" x2="417.45" y2="381.64" stroke="#000" stroke-width="0.7"/>
<text x="417.45" y="394.8" font-size="8" text-anchor="middle">0.5</text>
<line x1="432.02" y1="384.4" x2="432.02" y2="382.98" stroke="#000" stroke-width="0.7"/>
<line x1="446.6" y1="384.4" x2="446.6" y2="381.64" stroke="#000" stroke-width="0.7"/>
<text x="446.6" y="394.8" font-size="8" text-anchor="middle">1.0</text>
<line x1="461.18" y1="384.4" x2="461.18" y2="382.98" stroke="#000" stroke-width="0.7"/>
<line x1="475.75" y1="384.4" x2="475.75" y2="381.64" stroke="#000" stroke-width="0.7"/>
<text x="475.75" y="394.8" font-size="8" text-anchor="middle">1.5</text>
<line x1="490.32" y1="384.4" x2="490.32" y2="382.98" stroke="#000" stroke-width="0.7"/>
<line x1="504.9" y1="384.4" x2="504.9" y2="381.64" stroke="#000" stroke-width="0.7"/>
<text x="504.9" y="394.8" font-size="8" text-anchor="middle">2.0</text>
<line x1="519.48" y1="384.4" x2="519.48" y2="382.98" stroke="#000" stroke-width="0.7"/>
<line x1="534.05" y1="384.4" x2="534.05" y2="381.64" stroke="#000" stroke-width="0.7"/>
<text x="534.05" y="394.8" font-size="8" text-anchor="middle">2.5</text>
<line x1="548.62" y1="384.4" x2="548.62" y2="382.98" stroke="#000" stroke-width="0.7"/>
<line x1="563.2" y1="384.4" x2="563.2" y2="381.64" stroke="#000" stroke-width="0.7"/>
<text x="563.2" y="394.8" font-size="8" text-anchor="middle">3.0</text>
<line x1="577.77" y1="384.4" x2="577.77" y2="382.98" stroke="#000" stroke-width="0.7"/>
<line x1="592.35" y1="384.4" x2="592.35" y2="381.64" stroke="#000" stroke-width="0.7"/>
<text x="592.35" y="394.8" font-size="8" text-anchor="middle">3.5</text>
<line x1="606.92" y1="384.4" x2="606.92" y2="382.98" stroke="#000" stroke-width="0.7"/>
<line x1="621.5" y1="384.4" x2="621.5" y2="381.64" stroke="#000" stroke-width="0.7"/>
<text x="621.5" y="394.8" font-size="8" text-anchor="middle">4.0</text>
<line x1="636.07" y1="384.4" x2="636.07" y2="382.98" stroke="#000" stroke-width="0.7"/>
<line x1="650.65" y1="384.4" x2="650.65" y2="381.64" stroke="#000" stroke-width="0.7"/>
<text x="650.65" y="394.8" font-size="8" text-anchor="middle">4.5</text>
<line x1="665.22" y1="384.4" x2="665.22" y2="382.98" stroke="#000" stroke-width="0.7"/>
<line x1="679.8" y1="384.4" x2="679.8" y2="381.64" stroke="#000" stroke-width="0.7"/>
<text x="679.8" y="394.8" font-size="8" text-anchor="middle">5.0</text>
<line x1="388.3" y1="372.72" x2="391.15" y2="372.72" stroke="#000" stroke-width="0.7"/>
<text x="384.21" y="376.26" font-size="8" text-anchor="end">0.4</text>
<line x1="388.3" y1="349.38" x2="391.15" y2="349.38" stroke="#000" stroke-width="0.7"/>
<text x="384.21" y="352.91" font-size="8" text-anchor="end">0.8</text>
<line x1="388.3" y1="326.02" x2="391.15" y2="326.02" stroke="#000" stroke-width="0.7"/>
<text x="384.21" y="329.56" font-size="8" text-anchor="end">1.2</text>
<line x1="388.3" y1="302.68" x2="391.15" y2="302.68" stroke="#000" stroke-width="0.7"/>
<text x="384.21" y="306.21" font-size="8" text-anchor="end">1.6</text>
<line x1="388.3" y1="279.32" x2="391.15" y2="279.32" stroke="#000" stroke-width="0.7"/>
<text x="384.21" y="282.86" font-size="8" text-anchor="end">2.0</text>
<line x1="388.3" y1="255.98" x2="391.15" y2="255.98" stroke="#000" stroke-width="0.7"/>
<text x="384.21" y="259.51" font-size="8" text-anchor="end">2.4</text>
<line x1="388.3" y1="361.05" x2="389.63" y2="361.05" stroke="#000" stroke-width="0.7"/>
<line x1="388.3" y1="337.7" x2="389.63" y2="337.7" stroke="#000" stroke-width="0.7"/>
<line x1="388.3" y1="314.35" x2="389.63" y2="314.35" stroke="#000" stroke-width="0.7"/>
<line x1="388.3" y1="291" x2="389.63" y2="291" stroke="#000" stroke-width="0.7"/>
<line x1="388.3" y1="267.65" x2="389.63" y2="267.65" stroke="#000" stroke-width="0.7"/>
<text x="534.05" y="409.2" font-size="11.7" text-anchor="middle">width(10<tspan font-size="7.72" dy="-4.68">2</tspan><tspan dy="4.68">mm)</tspan></text>
<text x="533.65" y="423.8" font-size="11.7" text-anchor="middle">(c)</text>
<text transform="translate(369.3,314.35) rotate(-90)" font-size="11.7" text-anchor="middle">X-direction strain(10<tspan font-size="7.25" dy="-5.26">−4</tspan><tspan dy="5.26">)</tspan></text>
<line x1="508.33" y1="306.6" x2="558.9" y2="306.6" stroke="#000" stroke-width="1"/>
<polygon points="499.07,306.6 515.09,302.33 510.64,306.6 515.09,310.87" fill="#000"/>
<polygon points="568.16,306.6 552.14,302.33 556.59,306.6 552.14,310.87" fill="#000"/>
<text x="530.4" y="300.5" font-size="10.2" text-anchor="middle">Γ</text>
<text x="500.5" y="332.9" font-size="8.6">σ<tspan font-size="5.33" dy="1.89">s</tspan><tspan dy="-1.89">=1000MPa</tspan></text>
<text x="500.5" y="345.6" font-size="8.6">Plastic ratio=66.7%</text>
<line x1="625.5" y1="251.5" x2="645" y2="251.5" stroke="#000" stroke-width="0.7"/>
<polygon points="635.25,248.66 632.75,253.07 637.75,253.07" fill="#000"/>
<text x="647.5" y="253.9" font-size="8">s<tspan dx="1.44">′</tspan></text>
<text x="659.7" y="253.9" font-size="8">1mm</text>
<line x1="625.5" y1="262.3" x2="645" y2="262.3" stroke="#808080" stroke-width="0.7"/>
<circle cx="635.25" cy="262.3" r="1.82" fill="#fff" stroke="#000" stroke-width="0.7"/>
<text x="647.5" y="264.7" font-size="8">s<tspan dx="1.44">′</tspan></text>
<text x="659.7" y="264.7" font-size="8">2mm</text>
<line x1="625.5" y1="272.9" x2="645" y2="272.9" stroke="#000" stroke-width="0.7"/>
<polygon points="635.25,270.41 637.74,272.9 635.25,275.39 632.76,272.9" fill="#fff" stroke="#000" stroke-width="0.7"/>
<text x="647.5" y="275.3" font-size="8">s<tspan dx="1.44">′</tspan></text>
<text x="659.7" y="275.3" font-size="8">3mm</text>
<line x1="625.5" y1="283.6" x2="645" y2="283.6" stroke="#000" stroke-width="0.7"/>
<rect x="633.43" y="281.78" width="3.65" height="3.65" fill="#000"/>
<text x="647.5" y="286" font-size="8">s<tspan dx="1.44">′</tspan></text>
<text x="659.7" y="286" font-size="8">4mm</text>
<linearGradient id="ga" x1="0" y1="0" x2="1" y2="0"><stop offset="0" stop-color="#9a9a9a"/><stop offset="0.46" stop-color="#b0b0b0"/><stop offset="0.54" stop-color="#a6a6a6"/><stop offset="1" stop-color="#767676"/></linearGradient>
<path d="M316,135.49 L351.45,135.98 Q371.3,135.73 386.9,130.2 L386.9,141.52 Q351.45,149.14 316,141.52 Z" fill="url(#ga)"/>
<path d="M316,144.71 Q351.45,151.85 386.9,144.71 L386.9,154.8 L316,154.8 Z" fill="url(#ga)"/>
<clipPath id="ka"><path d="M317.77,141.02 Q351.45,148.16 385.13,141.02 L385.13,145.45 Q351.45,152.59 317.77,145.45 Z"/></clipPath>
<path d="M317.77,141.02 Q351.45,148.16 385.13,141.02 L385.13,145.45 Q351.45,152.59 317.77,145.45 Z" fill="#fff"/>
<g clip-path="url(#ka)">
<polygon points="299.77,153.82 301.52,153.82 313.33,139.79 311.58,139.79" fill="#000"/>
<polygon points="303.27,153.82 305.02,153.82 316.83,139.79 315.08,139.79" fill="#000"/>
<polygon points="306.77,153.82 308.52,153.82 320.33,139.79 318.58,139.79" fill="#000"/>
<polygon points="310.27,153.82 312.02,153.82 323.83,139.79 322.08,139.79" fill="#000"/>
<polygon points="313.77,153.82 315.52,153.82 327.33,139.79 325.58,139.79" fill="#000"/>
<polygon points="317.27,153.82 319.02,153.82 330.83,139.79 329.08,139.79" fill="#000"/>
<polygon points="320.77,153.82 322.52,153.82 334.33,139.79 332.58,139.79" fill="#000"/>
<polygon points="324.27,153.82 326.02,153.82 337.83,139.79 336.08,139.79" fill="#000"/>
<polygon points="327.77,153.82 329.52,153.82 341.33,139.79 339.58,139.79" fill="#000"/>
<polygon points="331.27,153.82 333.02,153.82 344.83,139.79 343.08,139.79" fill="#000"/>
<polygon points="334.77,153.82 336.52,153.82 348.33,139.79 346.58,139.79" fill="#000"/>
<polygon points="338.27,153.82 340.02,153.82 351.83,139.79 350.08,139.79" fill="#000"/>
<polygon points="341.77,153.82 343.52,153.82 355.33,139.79 353.58,139.79" fill="#000"/>
<polygon points="345.27,153.82 347.02,153.82 358.83,139.79 357.08,139.79" fill="#000"/>
<polygon points="348.77,153.82 350.52,153.82 362.33,139.79 360.58,139.79" fill="#000"/>
<polygon points="352.27,153.82 354.02,153.82 365.83,139.79 364.08,139.79" fill="#000"/>
<polygon points="355.77,153.82 357.52,153.82 369.33,139.79 367.58,139.79" fill="#000"/>
<polygon points="359.27,153.82 361.02,153.82 372.83,139.79 371.08,139.79" fill="#000"/>
<polygon points="362.77,153.82 364.52,153.82 376.33,139.79 374.58,139.79" fill="#000"/>
<polygon points="366.27,153.82 368.02,153.82 379.83,139.79 378.08,139.79" fill="#000"/>
<polygon points="369.77,153.82 371.52,153.82 383.33,139.79 381.58,139.79" fill="#000"/>
<polygon points="373.27,153.82 375.02,153.82 386.83,139.79 385.08,139.79" fill="#000"/>
<polygon points="376.77,153.82 378.52,153.82 390.33,139.79 388.58,139.79" fill="#000"/>
<polygon points="380.27,153.82 382.02,153.82 393.83,139.79 392.08,139.79" fill="#000"/>
<polygon points="383.77,153.82 385.52,153.82 397.33,139.79 395.58,139.79" fill="#000"/>
<polygon points="387.27,153.82 389.02,153.82 400.83,139.79 399.08,139.79" fill="#000"/>
</g>
<path d="M317.77,141.02 Q351.45,148.16 385.13,141.02 L385.13,145.45 Q351.45,152.59 317.77,145.45 Z" fill="none" stroke="#333" stroke-width="0.45"/>
<polygon points="316,130.2 351.45,130.2 351.45,131.18 316,132.04" fill="#cdcdcd"/>
<line x1="316" y1="135.24" x2="351.45" y2="135.24" stroke="#555" stroke-width="0.6"/>
<text x="356.77" y="136.84" font-size="9.5">s<tspan dx="1.14" dy="-0.95">′</tspan></text>
<linearGradient id="gb" x1="0" y1="0" x2="1" y2="0"><stop offset="0" stop-color="#9a9a9a"/><stop offset="0.46" stop-color="#b0b0b0"/><stop offset="0.54" stop-color="#a6a6a6"/><stop offset="1" stop-color="#767676"/></linearGradient>
<path d="M140.3,363.09 L172.15,363.51 Q189.99,363.3 204,358.6 L204,368.21 Q172.15,374.69 140.3,368.21 Z" fill="url(#gb)"/>
<path d="M140.3,370.93 Q172.15,376.99 204,370.93 L204,379.5 L140.3,379.5 Z" fill="url(#gb)"/>
<clipPath id="kb"><path d="M141.89,367.8 Q172.15,373.86 202.41,367.8 L202.41,371.56 Q172.15,377.62 141.89,371.56 Z"/></clipPath>
<path d="M141.89,367.8 Q172.15,373.86 202.41,367.8 L202.41,371.56 Q172.15,377.62 141.89,371.56 Z" fill="#fff"/>
<g clip-path="url(#kb)">
<polygon points="123.89,378.66 125.64,378.66 135.67,366.75 133.92,366.75" fill="#000"/>
<polygon points="127.39,378.66 129.14,378.66 139.17,366.75 137.42,366.75" fill="#000"/>
<polygon points="130.89,378.66 132.64,378.66 142.67,366.75 140.92,366.75" fill="#000"/>
<polygon points="134.39,378.66 136.14,378.66 146.17,366.75 144.42,366.75" fill="#000"/>
<polygon points="137.89,378.66 139.64,378.66 149.67,366.75 147.92,366.75" fill="#000"/>
<polygon points="141.39,378.66 143.14,378.66 153.17,366.75 151.42,366.75" fill="#000"/>
<polygon points="144.89,378.66 146.64,378.66 156.67,366.75 154.92,366.75" fill="#000"/>
<polygon points="148.39,378.66 150.14,378.66 160.17,366.75 158.42,366.75" fill="#000"/>
<polygon points="151.89,378.66 153.64,378.66 163.67,366.75 161.92,366.75" fill="#000"/>
<polygon points="155.39,378.66 157.14,378.66 167.17,366.75 165.42,366.75" fill="#000"/>
<polygon points="158.89,378.66 160.64,378.66 170.67,366.75 168.92,366.75" fill="#000"/>
<polygon points="162.39,378.66 164.14,378.66 174.17,366.75 172.42,366.75" fill="#000"/>
<polygon points="165.89,378.66 167.64,378.66 177.67,366.75 175.92,366.75" fill="#000"/>
<polygon points="169.39,378.66 171.14,378.66 181.17,366.75 179.42,366.75" fill="#000"/>
<polygon points="172.89,378.66 174.64,378.66 184.67,366.75 182.92,366.75" fill="#000"/>
<polygon points="176.39,378.66 178.14,378.66 188.17,366.75 186.42,366.75" fill="#000"/>
<polygon points="179.89,378.66 181.64,378.66 191.67,366.75 189.92,366.75" fill="#000"/>
<polygon points="183.39,378.66 185.14,378.66 195.17,366.75 193.42,366.75" fill="#000"/>
<polygon points="186.89,378.66 188.64,378.66 198.67,366.75 196.92,366.75" fill="#000"/>
<polygon points="190.39,378.66 192.14,378.66 202.17,366.75 200.42,366.75" fill="#000"/>
<polygon points="193.89,378.66 195.64,378.66 205.67,366.75 203.92,366.75" fill="#000"/>
<polygon points="197.39,378.66 199.14,378.66 209.17,366.75 207.42,366.75" fill="#000"/>
<polygon points="200.89,378.66 202.64,378.66 212.67,366.75 210.92,366.75" fill="#000"/>
<polygon points="204.39,378.66 206.14,378.66 216.17,366.75 214.42,366.75" fill="#000"/>
</g>
<path d="M141.89,367.8 Q172.15,373.86 202.41,367.8 L202.41,371.56 Q172.15,377.62 141.89,371.56 Z" fill="none" stroke="#333" stroke-width="0.45"/>
<path d="M140.3,358.6 L171.51,358.6 Q174.06,360.69 171.51,363.09 L140.3,361.11 Z" fill="#8a8a8a"/>
<path d="M140.3,359.75 L170.56,359.75 Q172.47,360.9 170.56,362.47 L140.3,360.48 Z" fill="#fff"/>
<line x1="140.3" y1="361.11" x2="171.51" y2="363.09" stroke="#444" stroke-width="0.5"/>
<text x="174.38" y="364.24" font-size="10">′</text>
<linearGradient id="gc" x1="0" y1="0" x2="1" y2="0"><stop offset="0" stop-color="#9a9a9a"/><stop offset="0.46" stop-color="#b0b0b0"/><stop offset="0.54" stop-color="#a6a6a6"/><stop offset="1" stop-color="#767676"/></linearGradient>
<path d="M502.5,363.81 L534.7,364.25 Q552.73,364.03 566.9,359.1 L566.9,369.17 Q534.7,375.96 502.5,369.17 Z" fill="url(#gc)"/>
<path d="M502.5,372.02 Q534.7,378.37 566.9,372.02 L566.9,381 L502.5,381 Z" fill="url(#gc)"/>
<clipPath id="kc"><path d="M504.11,368.74 Q534.7,375.09 565.29,368.74 L565.29,372.68 Q534.7,379.03 504.11,372.68 Z"/></clipPath>
<path d="M504.11,368.74 Q534.7,375.09 565.29,368.74 L565.29,372.68 Q534.7,379.03 504.11,372.68 Z" fill="#fff"/>
<g clip-path="url(#kc)">
<polygon points="486.11,380.12 487.86,380.12 498.37,367.64 496.62,367.64" fill="#000"/>
<polygon points="489.61,380.12 491.36,380.12 501.87,367.64 500.12,367.64" fill="#000"/>
<polygon points="493.11,380.12 494.86,380.12 505.37,367.64 503.62,367.64" fill="#000"/>
<polygon points="496.61,380.12 498.36,380.12 508.87,367.64 507.12,367.64" fill="#000"/>
<polygon points="500.11,380.12 501.86,380.12 512.37,367.64 510.62,367.64" fill="#000"/>
<polygon points="503.61,380.12 505.36,380.12 515.87,367.64 514.12,367.64" fill="#000"/>
<polygon points="507.11,380.12 508.86,380.12 519.37,367.64 517.62,367.64" fill="#000"/>
<polygon points="510.61,380.12 512.36,380.12 522.87,367.64 521.12,367.64" fill="#000"/>
<polygon points="514.11,380.12 515.86,380.12 526.37,367.64 524.62,367.64" fill="#000"/>
<polygon points="517.61,380.12 519.36,380.12 529.87,367.64 528.12,367.64" fill="#000"/>
<polygon points="521.11,380.12 522.86,380.12 533.37,367.64 531.62,367.64" fill="#000"/>
<polygon points="524.61,380.12 526.36,380.12 536.87,367.64 535.12,367.64" fill="#000"/>
<polygon points="528.11,380.12 529.86,380.12 540.37,367.64 538.62,367.64" fill="#000"/>
<polygon points="531.61,380.12 533.36,380.12 543.87,367.64 542.12,367.64" fill="#000"/>
<polygon points="535.11,380.12 536.86,380.12 547.37,367.64 545.62,367.64" fill="#000"/>
<polygon points="538.61,380.12 540.36,380.12 550.87,367.64 549.12,367.64" fill="#000"/>
<polygon points="542.11,380.12 543.86,380.12 554.37,367.64 552.62,367.64" fill="#000"/>
<polygon points="545.61,380.12 547.36,380.12 557.87,367.64 556.12,367.64" fill="#000"/>
<polygon points="549.11,380.12 550.86,380.12 561.37,367.64 559.62,367.64" fill="#000"/>
<polygon points="552.61,380.12 554.36,380.12 564.87,367.64 563.12,367.64" fill="#000"/>
<polygon points="556.11,380.12 557.86,380.12 568.37,367.64 566.62,367.64" fill="#000"/>
<polygon points="559.61,380.12 561.36,380.12 571.87,367.64 570.12,367.64" fill="#000"/>
<polygon points="563.11,380.12 564.86,380.12 575.37,367.64 573.62,367.64" fill="#000"/>
<polygon points="566.61,380.12 568.36,380.12 578.87,367.64 577.12,367.64" fill="#000"/>
</g>
<path d="M504.11,368.74 Q534.7,375.09 565.29,368.74 L565.29,372.68 Q534.7,379.03 504.11,372.68 Z" fill="none" stroke="#333" stroke-width="0.45"/>
<polygon points="502.5,359.1 534.7,359.1 534.7,359.98 502.5,359.98" fill="#999"/>
<polygon points="502.5,359.98 534.7,359.98 534.7,363.26 502.5,361.07" fill="#fff"/>
<polygon points="502.5,361.07 534.7,363.26 534.7,364.25 502.5,363.81" fill="#a2a2a2"/>
<line x1="502.5" y1="362.71" x2="534.7" y2="363.48" stroke="#555" stroke-width="0.5"/>
<text x="535.02" y="362.82" font-size="8">s<tspan dx="0.8" dy="-0.96">′</tspan></text>
</svg>
</body>
</html>
